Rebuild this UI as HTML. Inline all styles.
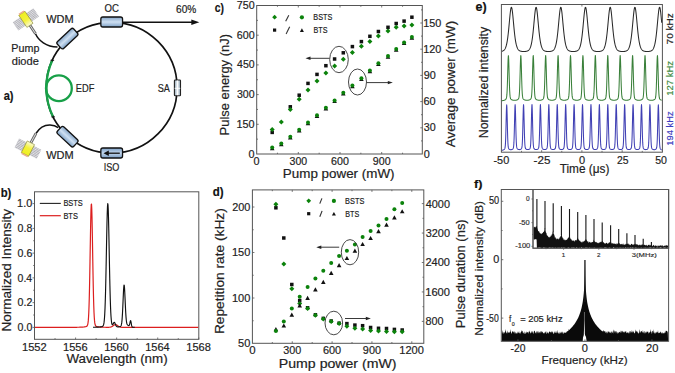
<!DOCTYPE html>
<html><head><meta charset="utf-8"><style>
html,body{margin:0;padding:0;background:#fff;overflow:hidden;}
svg{display:block;}
text{font-family:"Liberation Sans", sans-serif;stroke-width:0.18px;}
</style></head><body>
<svg width="675" height="373" viewBox="0 0 675 373">
<rect width="675" height="373" fill="#fff"/>
<defs>
<linearGradient id="gBox" x1="0" y1="0" x2="0" y2="1">
 <stop offset="0" stop-color="#84a4c6"/><stop offset="0.5" stop-color="#cfe0f2"/><stop offset="1" stop-color="#7ea1c6"/>
</linearGradient>
<linearGradient id="gIso" x1="0" y1="0" x2="0" y2="1">
 <stop offset="0" stop-color="#7c9fc6"/><stop offset="0.5" stop-color="#c2d6ec"/><stop offset="1" stop-color="#7a9dc4"/>
</linearGradient>
<linearGradient id="gSA" x1="0" y1="0" x2="1" y2="0">
 <stop offset="0" stop-color="#8da3b3"/><stop offset="0.5" stop-color="#f4f8fb"/><stop offset="1" stop-color="#8da3b3"/>
</linearGradient>
<linearGradient id="gYel" x1="0" y1="0" x2="1" y2="0">
 <stop offset="0" stop-color="#eeee20"/><stop offset="0.55" stop-color="#f4f23a"/><stop offset="1" stop-color="#fbfbd8"/>
</linearGradient>
<pattern id="hatch" width="1.5" height="1.5" patternUnits="userSpaceOnUse">
 <rect width="1.5" height="1.5" fill="#e8e8ec"/><rect width="0.6" height="1.5" fill="#a0a0a6"/><rect width="1.5" height="0.4" fill="#c4c4ca"/>
</pattern>
</defs>
<circle cx="111.7" cy="87.7" r="65.4" fill="none" stroke="#111" stroke-width="1.7"/>
<path d="M52.32,60.3 A65.4,65.4 0 0 0 53.18,116.9" fill="none" stroke="#18a048" stroke-width="2.3"/>
<circle cx="58.9" cy="88.2" r="12.9" fill="none" stroke="#18a048" stroke-width="2.3"/>
<line x1="50.52" y1="60.3" x2="54.12" y2="60.3" stroke="#111" stroke-width="1" />
<line x1="52.32" y1="59" x2="52.32" y2="61.6" stroke="#111" stroke-width="0.8" />
<line x1="51.38" y1="116.9" x2="54.98" y2="116.9" stroke="#111" stroke-width="1" />
<line x1="53.18" y1="115.6" x2="53.18" y2="118.2" stroke="#111" stroke-width="0.8" />
<line x1="123" y1="22.2" x2="192.5" y2="22.2" stroke="#111" stroke-width="1.4" />
<polygon points="199.3,22.2 191.3,19.4 191.3,25" fill="#111" stroke="none" stroke-width="0" />
<path d="M35.5,33.7 C38.5,40.5 46,46.8 57.5,47.1" fill="none" stroke="#111" stroke-width="1.5"/>
<path d="M35.9,133.5 C39.5,127.5 45,124.8 50,124.9 C54,125 56.5,126.3 58.2,127.6" fill="none" stroke="#111" stroke-width="1.5"/>
<g transform="translate(67.4,38.6) rotate(-43)"><rect x="-11.15" y="-4.65" width="22.3" height="9.3" rx="2" fill="url(#gBox)" stroke="#111" stroke-width="1.3"/></g>
<g transform="translate(67.5,136.7) rotate(43)"><rect x="-11.15" y="-4.65" width="22.3" height="9.3" rx="2" fill="url(#gBox)" stroke="#111" stroke-width="1.3"/></g>
<g transform="translate(111.7,22) rotate(0)"><rect x="-10.85" y="-5" width="21.7" height="10" rx="2" fill="url(#gBox)" stroke="#111" stroke-width="1.3"/></g>
<g transform="translate(111.7,153) rotate(0)"><rect x="-10.85" y="-5" width="21.7" height="10" rx="2" fill="url(#gIso)" stroke="#111" stroke-width="1.3"/></g>
<rect x="174.4" y="80" width="6.1" height="15.7" rx="0.8" fill="url(#gSA)" stroke="#222" stroke-width="1.1"/>
<line x1="177.45" y1="80.5" x2="177.45" y2="95.2" stroke="#ffffff" stroke-width="0.8" />
<line x1="174.6" y1="88.3" x2="180.3" y2="88.3" stroke="#ffffff" stroke-width="0.9" />
<line x1="119.8" y1="153.2" x2="107" y2="153.2" stroke="#111" stroke-width="1.3" />
<polygon points="103.5,153.2 108.8,150.5 108.8,155.9" fill="#111" stroke="none" stroke-width="0" />
<line x1="29.95" y1="25.31" x2="35.5" y2="33.7" stroke="#666" stroke-width="2.8"/>
<line x1="29.95" y1="25.31" x2="35.5" y2="33.7" stroke="#e0e0e0" stroke-width="1.0"/>
<g transform="translate(25.9,19.3) rotate(56)">
<rect x="-5" y="-12.5" width="10" height="25" fill="url(#hatch)"/>
<rect x="-7.25" y="-3.7" width="14.5" height="7.4" fill="url(#gYel)" stroke="#8a8a30" stroke-width="0.6"/>
<rect x="-8.65" y="-3.1" width="1.5" height="6.2" fill="#eeb08a"/>
</g>
<line x1="30.85" y1="142.81" x2="35.9" y2="133.5" stroke="#666" stroke-width="2.8"/>
<line x1="30.85" y1="142.81" x2="35.9" y2="133.5" stroke="#e0e0e0" stroke-width="1.0"/>
<g transform="translate(27.9,148.6) rotate(-63)">
<rect x="-5" y="-12.5" width="10" height="25" fill="url(#hatch)"/>
<rect x="-6.5" y="-4.1" width="13" height="8.2" fill="url(#gYel)" stroke="#8a8a30" stroke-width="0.6"/>
<rect x="-7.9" y="-3.5" width="1.5" height="7" fill="#eeb08a"/>
</g>
<text x="46.2" y="22.5" font-size="10.2" fill="#222" stroke="#222" font-weight="normal" textLength="27.4" lengthAdjust="spacingAndGlyphs">WDM</text>
<text x="104.62" y="12.2" font-size="10.3" fill="#222" stroke="#222" font-weight="normal" textLength="14.39" lengthAdjust="spacingAndGlyphs">OC</text>
<text x="176.09" y="12.9" font-size="10.2" fill="#222" stroke="#222" font-weight="normal" textLength="20.3" lengthAdjust="spacingAndGlyphs">60%</text>
<text x="11.34" y="51.6" font-size="10.2" fill="#222" stroke="#222" font-weight="normal" textLength="28.05" lengthAdjust="spacingAndGlyphs">Pump</text>
<text x="11.76" y="65.3" font-size="10.2" fill="#222" stroke="#222" font-weight="normal" textLength="27.04" lengthAdjust="spacingAndGlyphs">diode</text>
<text x="75.86" y="91.8" font-size="10" fill="#222" stroke="#222" font-weight="normal" textLength="18.53" lengthAdjust="spacingAndGlyphs">EDF</text>
<text x="157.64" y="91.7" font-size="10" fill="#222" stroke="#222" font-weight="normal" textLength="12.14" lengthAdjust="spacingAndGlyphs">SA</text>
<text x="3.68" y="99.6" font-size="12.3" fill="#111" stroke="#111" font-weight="bold" textLength="9.79" lengthAdjust="spacingAndGlyphs">a)</text>
<text x="46.2" y="159.1" font-size="10.2" fill="#222" stroke="#222" font-weight="normal" textLength="27.4" lengthAdjust="spacingAndGlyphs">WDM</text>
<text x="103.68" y="170.9" font-size="10.2" fill="#222" stroke="#222" font-weight="normal" textLength="15.65" lengthAdjust="spacingAndGlyphs">ISO</text>
<rect x="34.5" y="191.8" width="164.3" height="147.5" fill="none" stroke="#555" stroke-width="1"/>
<line x1="34.5" y1="339.3" x2="34.5" y2="337.5" stroke="#555" stroke-width="0.8" />
<line x1="55.04" y1="339.3" x2="55.04" y2="338.1" stroke="#555" stroke-width="0.8" />
<line x1="75.58" y1="339.3" x2="75.58" y2="337.5" stroke="#555" stroke-width="0.8" />
<line x1="96.11" y1="339.3" x2="96.11" y2="338.1" stroke="#555" stroke-width="0.8" />
<line x1="116.65" y1="339.3" x2="116.65" y2="337.5" stroke="#555" stroke-width="0.8" />
<line x1="137.19" y1="339.3" x2="137.19" y2="338.1" stroke="#555" stroke-width="0.8" />
<line x1="157.73" y1="339.3" x2="157.73" y2="337.5" stroke="#555" stroke-width="0.8" />
<line x1="178.26" y1="339.3" x2="178.26" y2="338.1" stroke="#555" stroke-width="0.8" />
<line x1="198.8" y1="339.3" x2="198.8" y2="337.5" stroke="#555" stroke-width="0.8" />
<line x1="34.5" y1="327.4" x2="32.5" y2="327.4" stroke="#555" stroke-width="0.8" />
<line x1="34.5" y1="315.02" x2="33.2" y2="315.02" stroke="#555" stroke-width="0.8" />
<line x1="34.5" y1="302.64" x2="32.5" y2="302.64" stroke="#555" stroke-width="0.8" />
<line x1="34.5" y1="290.26" x2="33.2" y2="290.26" stroke="#555" stroke-width="0.8" />
<line x1="34.5" y1="277.88" x2="32.5" y2="277.88" stroke="#555" stroke-width="0.8" />
<line x1="34.5" y1="265.5" x2="33.2" y2="265.5" stroke="#555" stroke-width="0.8" />
<line x1="34.5" y1="253.12" x2="32.5" y2="253.12" stroke="#555" stroke-width="0.8" />
<line x1="34.5" y1="240.74" x2="33.2" y2="240.74" stroke="#555" stroke-width="0.8" />
<line x1="34.5" y1="228.36" x2="32.5" y2="228.36" stroke="#555" stroke-width="0.8" />
<line x1="34.5" y1="215.98" x2="33.2" y2="215.98" stroke="#555" stroke-width="0.8" />
<line x1="34.5" y1="203.6" x2="32.5" y2="203.6" stroke="#555" stroke-width="0.8" />
<polyline points="35,327.39 35.25,327.39 35.5,327.39 35.75,327.39 36,327.39 36.25,327.39 36.5,327.39 36.75,327.39 37,327.39 37.25,327.39 37.5,327.39 37.75,327.39 38,327.39 38.25,327.39 38.5,327.39 38.75,327.39 39,327.39 39.25,327.39 39.5,327.39 39.75,327.39 40,327.39 40.25,327.39 40.5,327.39 40.75,327.39 41,327.39 41.25,327.39 41.5,327.39 41.75,327.39 42,327.39 42.25,327.39 42.5,327.39 42.75,327.39 43,327.39 43.25,327.39 43.5,327.39 43.75,327.39 44,327.39 44.25,327.39 44.5,327.39 44.75,327.39 45,327.39 45.25,327.39 45.5,327.39 45.75,327.39 46,327.39 46.25,327.39 46.5,327.39 46.75,327.39 47,327.39 47.25,327.39 47.5,327.39 47.75,327.39 48,327.39 48.25,327.39 48.5,327.39 48.75,327.39 49,327.39 49.25,327.39 49.5,327.39 49.75,327.39 50,327.39 50.25,327.39 50.5,327.38 50.75,327.38 51,327.38 51.25,327.38 51.5,327.38 51.75,327.38 52,327.38 52.25,327.38 52.5,327.38 52.75,327.38 53,327.38 53.25,327.38 53.5,327.38 53.75,327.38 54,327.38 54.25,327.38 54.5,327.38 54.75,327.38 55,327.38 55.25,327.38 55.5,327.38 55.75,327.38 56,327.38 56.25,327.38 56.5,327.38 56.75,327.38 57,327.38 57.25,327.38 57.5,327.38 57.75,327.38 58,327.38 58.25,327.38 58.5,327.38 58.75,327.38 59,327.38 59.25,327.38 59.5,327.38 59.75,327.37 60,327.37 60.25,327.37 60.5,327.37 60.75,327.37 61,327.37 61.25,327.37 61.5,327.37 61.75,327.37 62,327.37 62.25,327.37 62.5,327.37 62.75,327.37 63,327.37 63.25,327.37 63.5,327.37 63.75,327.37 64,327.37 64.25,327.37 64.5,327.37 64.75,327.36 65,327.36 65.25,327.36 65.5,327.36 65.75,327.36 66,327.36 66.25,327.36 66.5,327.36 66.75,327.36 67,327.36 67.25,327.36 67.5,327.36 67.75,327.35 68,327.35 68.25,327.35 68.5,327.35 68.75,327.35 69,327.35 69.25,327.35 69.5,327.35 69.75,327.35 70,327.34 70.25,327.34 70.5,327.34 70.75,327.34 71,327.34 71.25,327.34 71.5,327.34 71.75,327.33 72,327.33 72.25,327.33 72.5,327.33 72.75,327.33 73,327.33 73.25,327.32 73.5,327.32 73.75,327.32 74,327.32 74.25,327.31 74.5,327.31 74.75,327.31 75,327.31 75.25,327.3 75.5,327.3 75.75,327.3 76,327.29 76.25,327.29 76.5,327.29 76.75,327.28 77,327.28 77.25,327.27 77.5,327.27 77.75,327.27 78,327.26 78.25,327.26 78.5,327.25 78.75,327.24 79,327.24 79.25,327.23 79.5,327.22 79.75,327.22 80,327.21 80.25,327.2 80.5,327.19 80.75,327.18 81,327.17 81.25,327.16 81.5,327.15 81.75,327.14 82,327.12 82.25,327.11 82.5,327.09 82.75,327.07 83,327.05 83.25,327.03 83.5,327.01 83.75,326.98 84,326.96 84.25,326.93 84.5,326.89 84.75,326.86 85,326.82 85.25,326.77 85.5,326.72 85.75,326.66 86,326.59 86.25,326.51 86.5,326.4 86.75,326.25 87,326.04 87.25,325.71 87.5,325.18 87.75,324.33 88,322.99 88.25,320.91 88.5,317.78 88.75,313.26 89,306.99 89.25,298.69 89.5,288.25 89.75,275.78 90,261.73 90.25,246.92 90.5,232.45 90.75,219.68 91,209.98 91.25,204.52 91.5,204.01 91.75,208.52 92,217.45 92.25,229.72 92.5,243.95 92.75,258.8 93,273.08 93.25,285.91 93.5,296.78 93.75,305.5 94,312.15 94.25,317 94.5,320.38 94.75,322.64 95,324.11 95.25,325.04 95.5,325.62 95.75,325.98 96,326.22 96.25,326.38 96.5,326.49 96.75,326.58 97,326.65 97.25,326.71 97.5,326.76 97.75,326.81 98,326.85 98.25,326.89 98.5,326.92 98.75,326.95 99,326.98 99.25,327 99.5,327.03 99.75,327.05 100,327.07 100.25,327.09 100.5,327.1 100.75,327.12 101,327.13 101.25,327.15 101.5,327.16 101.75,327.17 102,327.18 102.25,327.19 102.5,327.2 102.75,327.21 103,327.22 103.25,327.22 103.5,327.23 103.75,327.24 104,327.24 104.25,327.25 104.5,327.25 104.75,327.26 105,327.26 105.25,327.27 105.5,327.27 105.75,327.28 106,327.28 106.25,327.29 106.5,327.29 106.75,327.29 107,327.29 107.25,327.3 107.5,327.3 107.75,327.3 108,327.3 108.25,327.3 108.5,327.29 108.75,327.28 109,327.27 109.25,327.26 109.5,327.24 109.75,327.22 110,327.19 110.25,327.14 110.5,327.09 110.75,327.03 111,326.96 111.25,326.87 111.5,326.77 111.75,326.65 112,326.52 112.25,326.37 112.5,326.21 112.75,326.04 113,325.87 113.25,325.69 113.5,325.51 113.75,325.33 114,325.16 114.25,325.01 114.5,324.88 114.75,324.78 115,324.7 115.25,324.65 115.5,324.63 115.75,324.65 116,324.7 116.25,324.78 116.5,324.89 116.75,325.02 117,325.18 117.25,325.34 117.5,325.52 117.75,325.7 118,325.88 118.25,326.06 118.5,326.23 118.75,326.4 119,326.54 119.25,326.68 119.5,326.8 119.75,326.9 120,326.99 120.25,327.07 120.5,327.13 120.75,327.19 121,327.23 121.25,327.26 121.5,327.29 121.75,327.31 122,327.33 122.25,327.34 122.5,327.35 122.75,327.36 123,327.36 123.25,327.37 123.5,327.37 123.75,327.37 124,327.37 124.25,327.38 124.5,327.38 124.75,327.38 125,327.38 125.25,327.38 125.5,327.38 125.75,327.38 126,327.38 126.25,327.38 126.5,327.38 126.75,327.38 127,327.38 127.25,327.38 127.5,327.38 127.75,327.38 128,327.38 128.25,327.38 128.5,327.38 128.75,327.38 129,327.38 129.25,327.38 129.5,327.38 129.75,327.38 130,327.38 130.25,327.38 130.5,327.38 130.75,327.38 131,327.38 131.25,327.38 131.5,327.38 131.75,327.38 132,327.38 132.25,327.38 132.5,327.39 132.75,327.39 133,327.39 133.25,327.39 133.5,327.39 133.75,327.39 134,327.39 134.25,327.39 134.5,327.39 134.75,327.39 135,327.39 135.25,327.39 135.5,327.39 135.75,327.39 136,327.39 136.25,327.39 136.5,327.39 136.75,327.39 137,327.39 137.25,327.39 137.5,327.39 137.75,327.39 138,327.39 138.25,327.39 138.5,327.39 138.75,327.39 139,327.39 139.25,327.39 139.5,327.39 139.75,327.39 140,327.39 140.25,327.39 140.5,327.39 140.75,327.39 141,327.39 141.25,327.39 141.5,327.39 141.75,327.39 142,327.39 142.25,327.39 142.5,327.39 142.75,327.39 143,327.39 143.25,327.39 143.5,327.39 143.75,327.39 144,327.39 144.25,327.39 144.5,327.39 144.75,327.39 145,327.39 145.25,327.39 145.5,327.39 145.75,327.39 146,327.39 146.25,327.39 146.5,327.39 146.75,327.39 147,327.39 147.25,327.39 147.5,327.39 147.75,327.39 148,327.39 148.25,327.39 148.5,327.39 148.75,327.39 149,327.39 149.25,327.39 149.5,327.39 149.75,327.39 150,327.39 150.25,327.39 150.5,327.39 150.75,327.39 151,327.39 151.25,327.39 151.5,327.39 151.75,327.39 152,327.39 152.25,327.39 152.5,327.39 152.75,327.39 153,327.39 153.25,327.39 153.5,327.39 153.75,327.39 154,327.39 154.25,327.39 154.5,327.39 154.75,327.39 155,327.39 155.25,327.39 155.5,327.39 155.75,327.39 156,327.39 156.25,327.39 156.5,327.39 156.75,327.39 157,327.39 157.25,327.39 157.5,327.39 157.75,327.39 158,327.39 158.25,327.39 158.5,327.39 158.75,327.39 159,327.39 159.25,327.39 159.5,327.39 159.75,327.39 160,327.39 160.25,327.39 160.5,327.39 160.75,327.39 161,327.39 161.25,327.39 161.5,327.39 161.75,327.39 162,327.39 162.25,327.39 162.5,327.39 162.75,327.4 163,327.4 163.25,327.4 163.5,327.4 163.75,327.4 164,327.4 164.25,327.4 164.5,327.4 164.75,327.4 165,327.4 165.25,327.4 165.5,327.4 165.75,327.4 166,327.4 166.25,327.4 166.5,327.4 166.75,327.4 167,327.4 167.25,327.4 167.5,327.4 167.75,327.4 168,327.4 168.25,327.4 168.5,327.4 168.75,327.4 169,327.4 169.25,327.4 169.5,327.4 169.75,327.4 170,327.4 170.25,327.4 170.5,327.4 170.75,327.4 171,327.4 171.25,327.4 171.5,327.4 171.75,327.4 172,327.4 172.25,327.4 172.5,327.4 172.75,327.4 173,327.4 173.25,327.4 173.5,327.4 173.75,327.4 174,327.4 174.25,327.4 174.5,327.4 174.75,327.4 175,327.4 175.25,327.4 175.5,327.4 175.75,327.4 176,327.4 176.25,327.4 176.5,327.4 176.75,327.4 177,327.4 177.25,327.4 177.5,327.4 177.75,327.4 178,327.4 178.25,327.4 178.5,327.4 178.75,327.4 179,327.4 179.25,327.4 179.5,327.4 179.75,327.4 180,327.4 180.25,327.4 180.5,327.4 180.75,327.4 181,327.4 181.25,327.4 181.5,327.4 181.75,327.4 182,327.4 182.25,327.4 182.5,327.4 182.75,327.4 183,327.4 183.25,327.4 183.5,327.4 183.75,327.4 184,327.4 184.25,327.4 184.5,327.4 184.75,327.4 185,327.4 185.25,327.4 185.5,327.4 185.75,327.4 186,327.4 186.25,327.4 186.5,327.4 186.75,327.4 187,327.4 187.25,327.4 187.5,327.4 187.75,327.4 188,327.4 188.25,327.4 188.5,327.4 188.75,327.4 189,327.4 189.25,327.4 189.5,327.4 189.75,327.4 190,327.4 190.25,327.4 190.5,327.4 190.75,327.4 191,327.4 191.25,327.4 191.5,327.4 191.75,327.4 192,327.4 192.25,327.4 192.5,327.4 192.75,327.4 193,327.4 193.25,327.4 193.5,327.4 193.75,327.4 194,327.4 194.25,327.4 194.5,327.4 194.75,327.4 195,327.4 195.25,327.4 195.5,327.4 195.75,327.4 196,327.4 196.25,327.4 196.5,327.4 196.75,327.4 197,327.4 197.25,327.4 197.5,327.4 197.75,327.4 198,327.4 198.25,327.4" fill="none" stroke="#dc1e1e" stroke-width="1.2" stroke-linejoin="round" />
<polyline points="93,327.26 93.25,327.26 93.5,327.25 93.75,327.25 94,327.24 94.25,327.24 94.5,327.23 94.75,327.23 95,327.22 95.25,327.21 95.5,327.2 95.75,327.2 96,327.19 96.25,327.18 96.5,327.17 96.75,327.16 97,327.15 97.25,327.14 97.5,327.13 97.75,327.11 98,327.1 98.25,327.09 98.5,327.07 98.75,327.05 99,327.03 99.25,327.01 99.5,326.99 99.75,326.97 100,326.94 100.25,326.91 100.5,326.88 100.75,326.85 101,326.81 101.25,326.77 101.5,326.72 101.75,326.66 102,326.59 102.25,326.5 102.5,326.38 102.75,326.2 103,325.94 103.25,325.55 103.5,324.95 103.75,324.04 104,322.67 104.25,320.67 104.5,317.82 104.75,313.88 105,308.62 105.25,301.83 105.5,293.4 105.75,283.33 106,271.81 106.25,259.24 106.5,246.21 106.75,233.5 107,222.01 107.25,212.69 107.5,206.36 107.75,203.64 108,204.81 108.25,209.75 108.5,217.97 108.75,228.7 109,241.03 109.25,254.03 109.5,266.87 109.75,278.86 110,289.54 110.25,298.63 110.5,306.06 110.75,311.9 111,316.32 111.25,319.54 111.5,321.78 111.75,323.27 112,324.17 112.25,324.62 112.5,324.72 112.75,324.56 113,324.21 113.25,323.73 113.5,323.22 113.75,322.77 114,322.45 114.25,322.33 114.5,322.44 114.75,322.77 115,323.27 115.25,323.88 115.5,324.52 115.75,325.12 116,325.64 116.25,326.05 116.5,326.35 116.75,326.56 117,326.7 117.25,326.78 117.5,326.82 117.75,326.84 118,326.85 118.25,326.84 118.5,326.83 118.75,326.81 119,326.79 119.25,326.76 119.5,326.72 119.75,326.67 120,326.61 120.25,326.52 120.5,326.38 120.75,326.15 121,325.78 121.25,325.17 121.5,324.17 121.75,322.63 122,320.35 122.25,317.17 122.5,313.02 122.75,307.98 123,302.31 123.25,296.51 123.5,291.26 123.75,287.27 124,285.18 124.25,285.35 124.5,287.73 124.75,291.91 125,297.21 125.25,302.9 125.5,308.34 125.75,313.09 126,316.91 126.25,319.78 126.5,321.79 126.75,323.12 127,323.97 127.25,324.49 127.5,324.82 127.75,325.04 128,325.22 128.25,325.38 128.5,325.52 128.75,325.62 129,325.61 129.25,325.39 129.5,324.81 129.75,323.82 130,322.53 130.25,321.3 130.5,320.62 130.75,320.81 131,321.83 131.25,323.31 131.5,324.76 131.75,325.88 132,326.57 132.25,326.94 132.5,327.1 132.75,327.17 133,327.2 133.25,327.22 133.5,327.23 133.75,327.24 134,327.25 134.25,327.25 134.5,327.26 134.75,327.26" fill="none" stroke="#111" stroke-width="1.15" stroke-linejoin="round" />
<line x1="39.8" y1="203.4" x2="60.8" y2="203.4" stroke="#222" stroke-width="1.1" />
<line x1="39.8" y1="215.7" x2="60.8" y2="215.7" stroke="#dc1e1e" stroke-width="1.2" />
<text x="63.41" y="206.3" font-size="8.4" fill="#222" stroke="#222" font-weight="normal" textLength="19.37" lengthAdjust="spacingAndGlyphs">BSTS</text>
<text x="63.4" y="218.6" font-size="8.4" fill="#222" stroke="#222" font-weight="normal" textLength="14.47" lengthAdjust="spacingAndGlyphs">BTS</text>
<text x="17.58" y="331.1" font-size="10.3" fill="#222" stroke="#222" font-weight="normal" textLength="14.7" lengthAdjust="spacingAndGlyphs">0.0</text>
<text x="17.58" y="306.34" font-size="10.3" fill="#222" stroke="#222" font-weight="normal" textLength="14.81" lengthAdjust="spacingAndGlyphs">0.2</text>
<text x="17.59" y="281.58" font-size="10.3" fill="#222" stroke="#222" font-weight="normal" textLength="14.59" lengthAdjust="spacingAndGlyphs">0.4</text>
<text x="17.58" y="256.82" font-size="10.3" fill="#222" stroke="#222" font-weight="normal" textLength="14.7" lengthAdjust="spacingAndGlyphs">0.6</text>
<text x="17.58" y="232.06" font-size="10.3" fill="#222" stroke="#222" font-weight="normal" textLength="14.7" lengthAdjust="spacingAndGlyphs">0.8</text>
<text x="17.14" y="207.3" font-size="10.3" fill="#222" stroke="#222" font-weight="normal" textLength="15.16" lengthAdjust="spacingAndGlyphs">1.0</text>
<text x="22.02" y="350.6" font-size="10.8" fill="#222" stroke="#222" font-weight="normal" textLength="24.69" lengthAdjust="spacingAndGlyphs">1552</text>
<text x="63.1" y="350.6" font-size="10.8" fill="#222" stroke="#222" font-weight="normal" textLength="24.57" lengthAdjust="spacingAndGlyphs">1556</text>
<text x="104.18" y="350.6" font-size="10.8" fill="#222" stroke="#222" font-weight="normal" textLength="24.57" lengthAdjust="spacingAndGlyphs">1560</text>
<text x="145.26" y="350.6" font-size="10.8" fill="#222" stroke="#222" font-weight="normal" textLength="24.46" lengthAdjust="spacingAndGlyphs">1564</text>
<text x="186.33" y="350.6" font-size="10.8" fill="#222" stroke="#222" font-weight="normal" textLength="24.57" lengthAdjust="spacingAndGlyphs">1568</text>
<text x="66.4" y="363.4" font-size="12.6" fill="#222" stroke="#222" font-weight="normal" textLength="101.21" lengthAdjust="spacingAndGlyphs">Wavelength (nm)</text>
<text x="0.72" y="196.5" font-size="12.3" fill="#111" stroke="#111" font-weight="bold" textLength="10.66" lengthAdjust="spacingAndGlyphs">b)</text>
<text transform="translate(11.3,331.58) rotate(-90)" font-size="12.3" fill="#222" stroke="#222" font-weight="normal" textLength="122.58" lengthAdjust="spacingAndGlyphs">Normalized Intensity</text>
<rect x="256.7" y="5.5" width="165.6" height="148.5" fill="none" stroke="#555" stroke-width="1"/>
<line x1="277.45" y1="154" x2="277.45" y2="152.7" stroke="#555" stroke-width="0.8" />
<line x1="277.45" y1="5.5" x2="277.45" y2="6.8" stroke="#555" stroke-width="0.8" />
<line x1="298.3" y1="154" x2="298.3" y2="152" stroke="#555" stroke-width="0.8" />
<line x1="298.3" y1="5.5" x2="298.3" y2="7.5" stroke="#555" stroke-width="0.8" />
<line x1="319.15" y1="154" x2="319.15" y2="152.7" stroke="#555" stroke-width="0.8" />
<line x1="319.15" y1="5.5" x2="319.15" y2="6.8" stroke="#555" stroke-width="0.8" />
<line x1="340" y1="154" x2="340" y2="152" stroke="#555" stroke-width="0.8" />
<line x1="340" y1="5.5" x2="340" y2="7.5" stroke="#555" stroke-width="0.8" />
<line x1="360.85" y1="154" x2="360.85" y2="152.7" stroke="#555" stroke-width="0.8" />
<line x1="360.85" y1="5.5" x2="360.85" y2="6.8" stroke="#555" stroke-width="0.8" />
<line x1="381.7" y1="154" x2="381.7" y2="152" stroke="#555" stroke-width="0.8" />
<line x1="381.7" y1="5.5" x2="381.7" y2="7.5" stroke="#555" stroke-width="0.8" />
<line x1="402.55" y1="154" x2="402.55" y2="152.7" stroke="#555" stroke-width="0.8" />
<line x1="402.55" y1="5.5" x2="402.55" y2="6.8" stroke="#555" stroke-width="0.8" />
<line x1="256.7" y1="139.15" x2="258" y2="139.15" stroke="#555" stroke-width="0.8" />
<line x1="256.7" y1="124.3" x2="258.7" y2="124.3" stroke="#555" stroke-width="0.8" />
<line x1="256.7" y1="109.45" x2="258" y2="109.45" stroke="#555" stroke-width="0.8" />
<line x1="256.7" y1="94.6" x2="258.7" y2="94.6" stroke="#555" stroke-width="0.8" />
<line x1="256.7" y1="79.75" x2="258" y2="79.75" stroke="#555" stroke-width="0.8" />
<line x1="256.7" y1="64.9" x2="258.7" y2="64.9" stroke="#555" stroke-width="0.8" />
<line x1="256.7" y1="50.05" x2="258" y2="50.05" stroke="#555" stroke-width="0.8" />
<line x1="256.7" y1="35.2" x2="258.7" y2="35.2" stroke="#555" stroke-width="0.8" />
<line x1="256.7" y1="20.35" x2="258" y2="20.35" stroke="#555" stroke-width="0.8" />
<line x1="422.3" y1="140.9" x2="421" y2="140.9" stroke="#555" stroke-width="0.8" />
<line x1="422.3" y1="127.8" x2="420.3" y2="127.8" stroke="#555" stroke-width="0.8" />
<line x1="422.3" y1="114.7" x2="421" y2="114.7" stroke="#555" stroke-width="0.8" />
<line x1="422.3" y1="101.6" x2="420.3" y2="101.6" stroke="#555" stroke-width="0.8" />
<line x1="422.3" y1="88.5" x2="421" y2="88.5" stroke="#555" stroke-width="0.8" />
<line x1="422.3" y1="75.4" x2="420.3" y2="75.4" stroke="#555" stroke-width="0.8" />
<line x1="422.3" y1="62.3" x2="421" y2="62.3" stroke="#555" stroke-width="0.8" />
<line x1="422.3" y1="49.2" x2="420.3" y2="49.2" stroke="#555" stroke-width="0.8" />
<line x1="422.3" y1="36.1" x2="421" y2="36.1" stroke="#555" stroke-width="0.8" />
<line x1="422.3" y1="23" x2="420.3" y2="23" stroke="#555" stroke-width="0.8" />
<line x1="422.3" y1="9.9" x2="421" y2="9.9" stroke="#555" stroke-width="0.8" />
<rect x="270.45" y="130.65" width="3.5" height="3.5" fill="#111"/>
<polygon points="272.2,127.1 274.7,129.6 272.2,132.1 269.7,129.6" fill="#0b820b" stroke="none" stroke-width="0" />
<polygon points="272.2,146.19 274.5,150.33 269.9,150.33" fill="#111" stroke="none" stroke-width="0" />
<circle cx="272.2" cy="147.6" r="2" fill="#0b820b"/>
<polygon points="281.3,119.4 283.8,121.9 281.3,124.4 278.8,121.9" fill="#0b820b" stroke="none" stroke-width="0" />
<polygon points="281.3,142.19 283.6,146.33 279,146.33" fill="#111" stroke="none" stroke-width="0" />
<circle cx="281.3" cy="143.6" r="2" fill="#0b820b"/>
<rect x="288.55" y="105.05" width="3.5" height="3.5" fill="#111"/>
<polygon points="290.3,107 292.8,109.5 290.3,112 287.8,109.5" fill="#0b820b" stroke="none" stroke-width="0" />
<polygon points="290.3,135.29 292.6,139.43 288,139.43" fill="#111" stroke="none" stroke-width="0" />
<circle cx="290.3" cy="136.7" r="2" fill="#0b820b"/>
<rect x="297.45" y="93.45" width="3.5" height="3.5" fill="#111"/>
<polygon points="299.2,96.7 301.7,99.2 299.2,101.7 296.7,99.2" fill="#0b820b" stroke="none" stroke-width="0" />
<polygon points="299.2,128.29 301.5,132.43 296.9,132.43" fill="#111" stroke="none" stroke-width="0" />
<circle cx="299.2" cy="129.7" r="2" fill="#0b820b"/>
<rect x="306.25" y="81.65" width="3.5" height="3.5" fill="#111"/>
<polygon points="308,87.4 310.5,89.9 308,92.4 305.5,89.9" fill="#0b820b" stroke="none" stroke-width="0" />
<polygon points="308,121.18 310.3,125.32 305.7,125.32" fill="#111" stroke="none" stroke-width="0" />
<circle cx="308" cy="122.6" r="2" fill="#0b820b"/>
<rect x="315.25" y="72.65" width="3.5" height="3.5" fill="#111"/>
<polygon points="317,78.6 319.5,81.1 317,83.6 314.5,81.1" fill="#0b820b" stroke="none" stroke-width="0" />
<polygon points="317,113.78 319.3,117.92 314.7,117.92" fill="#111" stroke="none" stroke-width="0" />
<circle cx="317" cy="115.2" r="2" fill="#0b820b"/>
<rect x="324.15" y="63.95" width="3.5" height="3.5" fill="#111"/>
<polygon points="325.9,70.4 328.4,72.9 325.9,75.4 323.4,72.9" fill="#0b820b" stroke="none" stroke-width="0" />
<polygon points="325.9,106.28 328.2,110.42 323.6,110.42" fill="#111" stroke="none" stroke-width="0" />
<circle cx="325.9" cy="107.7" r="2" fill="#0b820b"/>
<rect x="332.85" y="57.25" width="3.5" height="3.5" fill="#111"/>
<polygon points="334.6,63.5 337.1,66 334.6,68.5 332.1,66" fill="#0b820b" stroke="none" stroke-width="0" />
<polygon points="334.6,98.98 336.9,103.12 332.3,103.12" fill="#111" stroke="none" stroke-width="0" />
<circle cx="334.6" cy="100.4" r="2" fill="#0b820b"/>
<rect x="341.55" y="51.05" width="3.5" height="3.5" fill="#111"/>
<polygon points="343.3,56.8 345.8,59.3 343.3,61.8 340.8,59.3" fill="#0b820b" stroke="none" stroke-width="0" />
<polygon points="343.3,91.28 345.6,95.42 341,95.42" fill="#111" stroke="none" stroke-width="0" />
<circle cx="343.3" cy="92.7" r="2" fill="#0b820b"/>
<rect x="350.65" y="44.85" width="3.5" height="3.5" fill="#111"/>
<polygon points="352.4,50 354.9,52.5 352.4,55 349.9,52.5" fill="#0b820b" stroke="none" stroke-width="0" />
<polygon points="352.4,84.18 354.7,88.32 350.1,88.32" fill="#111" stroke="none" stroke-width="0" />
<circle cx="352.4" cy="85.6" r="2" fill="#0b820b"/>
<rect x="359.65" y="39.85" width="3.5" height="3.5" fill="#111"/>
<polygon points="361.4,43.7 363.9,46.2 361.4,48.7 358.9,46.2" fill="#0b820b" stroke="none" stroke-width="0" />
<polygon points="361.4,76.88 363.7,81.02 359.1,81.02" fill="#111" stroke="none" stroke-width="0" />
<circle cx="361.4" cy="78.3" r="2" fill="#0b820b"/>
<rect x="368.15" y="34.55" width="3.5" height="3.5" fill="#111"/>
<polygon points="369.9,39.1 372.4,41.6 369.9,44.1 367.4,41.6" fill="#0b820b" stroke="none" stroke-width="0" />
<polygon points="369.9,69.18 372.2,73.32 367.6,73.32" fill="#111" stroke="none" stroke-width="0" />
<circle cx="369.9" cy="70.6" r="2" fill="#0b820b"/>
<rect x="376.65" y="29.75" width="3.5" height="3.5" fill="#111"/>
<polygon points="378.4,33.5 380.9,36 378.4,38.5 375.9,36" fill="#0b820b" stroke="none" stroke-width="0" />
<polygon points="378.4,61.79 380.7,65.92 376.1,65.92" fill="#111" stroke="none" stroke-width="0" />
<circle cx="378.4" cy="63.2" r="2" fill="#0b820b"/>
<rect x="386.25" y="25.55" width="3.5" height="3.5" fill="#111"/>
<polygon points="388,28.6 390.5,31.1 388,33.6 385.5,31.1" fill="#0b820b" stroke="none" stroke-width="0" />
<polygon points="388,54.68 390.3,58.82 385.7,58.82" fill="#111" stroke="none" stroke-width="0" />
<circle cx="388" cy="56.1" r="2" fill="#0b820b"/>
<rect x="394.45" y="21.75" width="3.5" height="3.5" fill="#111"/>
<polygon points="396.2,24.8 398.7,27.3 396.2,29.8 393.7,27.3" fill="#0b820b" stroke="none" stroke-width="0" />
<polygon points="396.2,47.59 398.5,51.73 393.9,51.73" fill="#111" stroke="none" stroke-width="0" />
<circle cx="396.2" cy="49" r="2" fill="#0b820b"/>
<rect x="402.35" y="19.35" width="3.5" height="3.5" fill="#111"/>
<polygon points="404.1,23.6 406.6,26.1 404.1,28.6 401.6,26.1" fill="#0b820b" stroke="none" stroke-width="0" />
<polygon points="404.1,40.98 406.4,45.12 401.8,45.12" fill="#111" stroke="none" stroke-width="0" />
<circle cx="404.1" cy="42.4" r="2" fill="#0b820b"/>
<rect x="410.15" y="15.45" width="3.5" height="3.5" fill="#111"/>
<polygon points="411.9,22.6 414.4,25.1 411.9,27.6 409.4,25.1" fill="#0b820b" stroke="none" stroke-width="0" />
<polygon points="411.9,35.59 414.2,39.73 409.6,39.73" fill="#111" stroke="none" stroke-width="0" />
<circle cx="411.9" cy="37" r="2" fill="#0b820b"/>
<ellipse cx="339.0" cy="59.5" rx="9.3" ry="13.2" fill="none" stroke="#333" stroke-width="0.9"/>
<ellipse cx="357.5" cy="82.0" rx="9.0" ry="13.0" fill="none" stroke="#333" stroke-width="0.9"/>
<line x1="309" y1="58.3" x2="329.5" y2="58.3" stroke="#222" stroke-width="0.9" />
<polygon points="305.5,58.3 310.5,56.6 310.5,60" fill="#222" stroke="none" stroke-width="0" />
<line x1="366.8" y1="82.6" x2="389" y2="82.6" stroke="#222" stroke-width="0.9" />
<polygon points="392.8,82.6 387.8,80.9 387.8,84.3" fill="#222" stroke="none" stroke-width="0" />
<polygon points="274.6,14.8 277,17.2 274.6,19.6 272.2,17.2" fill="#0b820b" stroke="none" stroke-width="0" />
<circle cx="301.9" cy="17.3" r="2.1" fill="#0b820b"/>
<rect x="273" y="28.5" width="3.2" height="3.2" fill="#111"/>
<polygon points="301.9,28.3 303.9,31.9 299.9,31.9" fill="#111" stroke="none" stroke-width="0" />
<line x1="285.7" y1="21.3" x2="288.8" y2="15.2" stroke="#333" stroke-width="1.1" />
<line x1="286.1" y1="34" x2="289.7" y2="26.8" stroke="#333" stroke-width="1.1" />
<text x="313.32" y="20.3" font-size="8.4" fill="#222" stroke="#222" font-weight="normal" textLength="18.95" lengthAdjust="spacingAndGlyphs">BSTS</text>
<text x="313.53" y="32.8" font-size="8.4" fill="#222" stroke="#222" font-weight="normal" textLength="13.94" lengthAdjust="spacingAndGlyphs">BTS</text>
<text x="248.58" y="157.5" font-size="10" fill="#222" stroke="#222" font-weight="normal" textLength="6.02" lengthAdjust="spacingAndGlyphs">0</text>
<text x="236.54" y="127.8" font-size="10" fill="#222" stroke="#222" font-weight="normal" textLength="18.05" lengthAdjust="spacingAndGlyphs">150</text>
<text x="236.98" y="98.1" font-size="10" fill="#222" stroke="#222" font-weight="normal" textLength="17.6" lengthAdjust="spacingAndGlyphs">300</text>
<text x="237.09" y="68.4" font-size="10" fill="#222" stroke="#222" font-weight="normal" textLength="17.49" lengthAdjust="spacingAndGlyphs">450</text>
<text x="236.77" y="38.7" font-size="10" fill="#222" stroke="#222" font-weight="normal" textLength="17.82" lengthAdjust="spacingAndGlyphs">600</text>
<text x="236.77" y="9" font-size="10" fill="#222" stroke="#222" font-weight="normal" textLength="17.82" lengthAdjust="spacingAndGlyphs">750</text>
<text x="423.78" y="157.5" font-size="10" fill="#222" stroke="#222" font-weight="normal" textLength="6.02" lengthAdjust="spacingAndGlyphs">0</text>
<text x="423.78" y="131.3" font-size="10" fill="#222" stroke="#222" font-weight="normal" textLength="11.91" lengthAdjust="spacingAndGlyphs">30</text>
<text x="423.55" y="105.1" font-size="10" fill="#222" stroke="#222" font-weight="normal" textLength="12.14" lengthAdjust="spacingAndGlyphs">60</text>
<text x="423.67" y="78.9" font-size="10" fill="#222" stroke="#222" font-weight="normal" textLength="12.02" lengthAdjust="spacingAndGlyphs">90</text>
<text x="423.34" y="52.7" font-size="10" fill="#222" stroke="#222" font-weight="normal" textLength="18.05" lengthAdjust="spacingAndGlyphs">120</text>
<text x="423.34" y="26.5" font-size="10" fill="#222" stroke="#222" font-weight="normal" textLength="18.05" lengthAdjust="spacingAndGlyphs">150</text>
<text x="253.63" y="165.1" font-size="10" fill="#222" stroke="#222" font-weight="normal" textLength="6.02" lengthAdjust="spacingAndGlyphs">0</text>
<text x="289.53" y="165.1" font-size="10" fill="#222" stroke="#222" font-weight="normal" textLength="17.6" lengthAdjust="spacingAndGlyphs">300</text>
<text x="331.02" y="165.1" font-size="10" fill="#222" stroke="#222" font-weight="normal" textLength="17.82" lengthAdjust="spacingAndGlyphs">600</text>
<text x="372.83" y="165.1" font-size="10" fill="#222" stroke="#222" font-weight="normal" textLength="17.71" lengthAdjust="spacingAndGlyphs">900</text>
<text x="282.83" y="178.4" font-size="12" fill="#222" stroke="#222" font-weight="normal" textLength="111.68" lengthAdjust="spacingAndGlyphs">Pump power (mW)</text>
<text transform="translate(228.5,135.44) rotate(-90)" font-size="12" fill="#222" stroke="#222" font-weight="normal" textLength="101.42" lengthAdjust="spacingAndGlyphs">Pulse energy (nJ)</text>
<text transform="translate(455.3,147.2) rotate(-90)" font-size="12" fill="#222" stroke="#222" font-weight="normal" textLength="126.31" lengthAdjust="spacingAndGlyphs">Average power (mW)</text>
<text x="214.79" y="11.7" font-size="12.3" fill="#111" stroke="#111" font-weight="bold" textLength="9.15" lengthAdjust="spacingAndGlyphs">c)</text>
<rect x="252.4" y="189.9" width="171.4" height="153.4" fill="none" stroke="#555" stroke-width="1"/>
<line x1="272.32" y1="343.3" x2="272.32" y2="342" stroke="#555" stroke-width="0.8" />
<line x1="272.32" y1="189.9" x2="272.32" y2="191.2" stroke="#555" stroke-width="0.8" />
<line x1="292.25" y1="343.3" x2="292.25" y2="341.3" stroke="#555" stroke-width="0.8" />
<line x1="292.25" y1="189.9" x2="292.25" y2="191.9" stroke="#555" stroke-width="0.8" />
<line x1="312.18" y1="343.3" x2="312.18" y2="342" stroke="#555" stroke-width="0.8" />
<line x1="312.18" y1="189.9" x2="312.18" y2="191.2" stroke="#555" stroke-width="0.8" />
<line x1="332.1" y1="343.3" x2="332.1" y2="341.3" stroke="#555" stroke-width="0.8" />
<line x1="332.1" y1="189.9" x2="332.1" y2="191.9" stroke="#555" stroke-width="0.8" />
<line x1="352.02" y1="343.3" x2="352.02" y2="342" stroke="#555" stroke-width="0.8" />
<line x1="352.02" y1="189.9" x2="352.02" y2="191.2" stroke="#555" stroke-width="0.8" />
<line x1="371.95" y1="343.3" x2="371.95" y2="341.3" stroke="#555" stroke-width="0.8" />
<line x1="371.95" y1="189.9" x2="371.95" y2="191.9" stroke="#555" stroke-width="0.8" />
<line x1="391.88" y1="343.3" x2="391.88" y2="342" stroke="#555" stroke-width="0.8" />
<line x1="391.88" y1="189.9" x2="391.88" y2="191.2" stroke="#555" stroke-width="0.8" />
<line x1="411.8" y1="343.3" x2="411.8" y2="341.3" stroke="#555" stroke-width="0.8" />
<line x1="411.8" y1="189.9" x2="411.8" y2="191.9" stroke="#555" stroke-width="0.8" />
<line x1="252.4" y1="320.75" x2="253.7" y2="320.75" stroke="#555" stroke-width="0.8" />
<line x1="252.4" y1="298" x2="254.4" y2="298" stroke="#555" stroke-width="0.8" />
<line x1="252.4" y1="275.25" x2="253.7" y2="275.25" stroke="#555" stroke-width="0.8" />
<line x1="252.4" y1="252.5" x2="254.4" y2="252.5" stroke="#555" stroke-width="0.8" />
<line x1="252.4" y1="229.75" x2="253.7" y2="229.75" stroke="#555" stroke-width="0.8" />
<line x1="252.4" y1="207" x2="254.4" y2="207" stroke="#555" stroke-width="0.8" />
<line x1="423.8" y1="321.4" x2="421.8" y2="321.4" stroke="#555" stroke-width="0.8" />
<line x1="423.8" y1="306.67" x2="422.5" y2="306.67" stroke="#555" stroke-width="0.8" />
<line x1="423.8" y1="291.95" x2="421.8" y2="291.95" stroke="#555" stroke-width="0.8" />
<line x1="423.8" y1="277.23" x2="422.5" y2="277.23" stroke="#555" stroke-width="0.8" />
<line x1="423.8" y1="262.5" x2="421.8" y2="262.5" stroke="#555" stroke-width="0.8" />
<line x1="423.8" y1="247.77" x2="422.5" y2="247.77" stroke="#555" stroke-width="0.8" />
<line x1="423.8" y1="233.05" x2="421.8" y2="233.05" stroke="#555" stroke-width="0.8" />
<line x1="423.8" y1="218.32" x2="422.5" y2="218.32" stroke="#555" stroke-width="0.8" />
<line x1="423.8" y1="203.6" x2="421.8" y2="203.6" stroke="#555" stroke-width="0.8" />
<rect x="274.15" y="206.05" width="3.5" height="3.5" fill="#111"/>
<polygon points="275.9,201.7 278.4,204.2 275.9,206.7 273.4,204.2" fill="#0b820b" stroke="none" stroke-width="0" />
<polygon points="275.9,327.08 278.2,331.23 273.6,331.23" fill="#111" stroke="none" stroke-width="0" />
<circle cx="275.9" cy="331" r="2" fill="#0b820b"/>
<rect x="282.05" y="236.25" width="3.5" height="3.5" fill="#111"/>
<polygon points="283.8,261.5 286.3,264 283.8,266.5 281.3,264" fill="#0b820b" stroke="none" stroke-width="0" />
<polygon points="283.8,323.38 286.1,327.53 281.5,327.53" fill="#111" stroke="none" stroke-width="0" />
<circle cx="283.8" cy="321.6" r="2" fill="#0b820b"/>
<rect x="290.05" y="282.75" width="3.5" height="3.5" fill="#111"/>
<polygon points="291.8,286.3 294.3,288.8 291.8,291.3 289.3,288.8" fill="#0b820b" stroke="none" stroke-width="0" />
<polygon points="291.8,312.58 294.1,316.73 289.5,316.73" fill="#111" stroke="none" stroke-width="0" />
<circle cx="291.8" cy="308.5" r="2" fill="#0b820b"/>
<rect x="297.95" y="298.85" width="3.5" height="3.5" fill="#111"/>
<polygon points="299.7,300.9 302.2,303.4 299.7,305.9 297.2,303.4" fill="#0b820b" stroke="none" stroke-width="0" />
<polygon points="299.7,303.28 302,307.43 297.4,307.43" fill="#111" stroke="none" stroke-width="0" />
<circle cx="299.7" cy="296.8" r="2" fill="#0b820b"/>
<rect x="305.85" y="306.05" width="3.5" height="3.5" fill="#111"/>
<polygon points="307.6,306 310.1,308.5 307.6,311 305.1,308.5" fill="#0b820b" stroke="none" stroke-width="0" />
<polygon points="307.6,295.78 309.9,299.93 305.3,299.93" fill="#111" stroke="none" stroke-width="0" />
<circle cx="307.6" cy="286.9" r="2" fill="#0b820b"/>
<rect x="313.65" y="313.05" width="3.5" height="3.5" fill="#111"/>
<polygon points="315.4,312.8 317.9,315.3 315.4,317.8 312.9,315.3" fill="#0b820b" stroke="none" stroke-width="0" />
<polygon points="315.4,287.28 317.7,291.43 313.1,291.43" fill="#111" stroke="none" stroke-width="0" />
<circle cx="315.4" cy="278.5" r="2" fill="#0b820b"/>
<rect x="321.55" y="316.65" width="3.5" height="3.5" fill="#111"/>
<polygon points="323.3,316.4 325.8,318.9 323.3,321.4 320.8,318.9" fill="#0b820b" stroke="none" stroke-width="0" />
<polygon points="323.3,279.78 325.6,283.93 321,283.93" fill="#111" stroke="none" stroke-width="0" />
<circle cx="323.3" cy="270.8" r="2" fill="#0b820b"/>
<rect x="329.45" y="319.25" width="3.5" height="3.5" fill="#111"/>
<polygon points="331.2,319 333.7,321.5 331.2,324 328.7,321.5" fill="#0b820b" stroke="none" stroke-width="0" />
<polygon points="331.2,270.78 333.5,274.93 328.9,274.93" fill="#111" stroke="none" stroke-width="0" />
<circle cx="331.2" cy="262.9" r="2" fill="#0b820b"/>
<rect x="337.35" y="321.45" width="3.5" height="3.5" fill="#111"/>
<polygon points="339.1,321.1 341.6,323.6 339.1,326.1 336.6,323.6" fill="#0b820b" stroke="none" stroke-width="0" />
<polygon points="339.1,263.08 341.4,267.23 336.8,267.23" fill="#111" stroke="none" stroke-width="0" />
<circle cx="339.1" cy="255.9" r="2" fill="#0b820b"/>
<rect x="345.15" y="321.85" width="3.5" height="3.5" fill="#111"/>
<polygon points="346.9,323.7 349.4,326.2 346.9,328.7 344.4,326.2" fill="#0b820b" stroke="none" stroke-width="0" />
<polygon points="346.9,255.89 349.2,260.03 344.6,260.03" fill="#111" stroke="none" stroke-width="0" />
<circle cx="346.9" cy="250.8" r="2" fill="#0b820b"/>
<rect x="353.15" y="323.35" width="3.5" height="3.5" fill="#111"/>
<polygon points="354.9,325.8 357.4,328.3 354.9,330.8 352.4,328.3" fill="#0b820b" stroke="none" stroke-width="0" />
<polygon points="354.9,248.59 357.2,252.72 352.6,252.72" fill="#111" stroke="none" stroke-width="0" />
<circle cx="354.9" cy="244.5" r="2" fill="#0b820b"/>
<rect x="360.85" y="323.95" width="3.5" height="3.5" fill="#111"/>
<polygon points="362.6,326.5 365.1,329 362.6,331.5 360.1,329" fill="#0b820b" stroke="none" stroke-width="0" />
<polygon points="362.6,241.89 364.9,246.03 360.3,246.03" fill="#111" stroke="none" stroke-width="0" />
<circle cx="362.6" cy="237" r="2" fill="#0b820b"/>
<rect x="368.85" y="325.75" width="3.5" height="3.5" fill="#111"/>
<polygon points="370.6,328 373.1,330.5 370.6,333 368.1,330.5" fill="#0b820b" stroke="none" stroke-width="0" />
<polygon points="370.6,235.89 372.9,240.03 368.3,240.03" fill="#111" stroke="none" stroke-width="0" />
<circle cx="370.6" cy="231" r="2" fill="#0b820b"/>
<rect x="376.75" y="326.55" width="3.5" height="3.5" fill="#111"/>
<polygon points="378.5,328.6 381,331.1 378.5,333.6 376,331.1" fill="#0b820b" stroke="none" stroke-width="0" />
<polygon points="378.5,229.09 380.8,233.22 376.2,233.22" fill="#111" stroke="none" stroke-width="0" />
<circle cx="378.5" cy="225.5" r="2" fill="#0b820b"/>
<rect x="384.75" y="326.75" width="3.5" height="3.5" fill="#111"/>
<polygon points="386.5,329 389,331.5 386.5,334 384,331.5" fill="#0b820b" stroke="none" stroke-width="0" />
<polygon points="386.5,222.59 388.8,226.72 384.2,226.72" fill="#111" stroke="none" stroke-width="0" />
<circle cx="386.5" cy="219" r="2" fill="#0b820b"/>
<rect x="392.65" y="327.65" width="3.5" height="3.5" fill="#111"/>
<polygon points="394.4,329.3 396.9,331.8 394.4,334.3 391.9,331.8" fill="#0b820b" stroke="none" stroke-width="0" />
<polygon points="394.4,215.28 396.7,219.42 392.1,219.42" fill="#111" stroke="none" stroke-width="0" />
<circle cx="394.4" cy="209.3" r="2" fill="#0b820b"/>
<rect x="400.45" y="328.25" width="3.5" height="3.5" fill="#111"/>
<polygon points="402.2,329.3 404.7,331.8 402.2,334.3 399.7,331.8" fill="#0b820b" stroke="none" stroke-width="0" />
<polygon points="402.2,209.19 404.5,213.32 399.9,213.32" fill="#111" stroke="none" stroke-width="0" />
<circle cx="402.2" cy="203.1" r="2" fill="#0b820b"/>
<ellipse cx="350.0" cy="252.2" rx="8.7" ry="12.6" fill="none" stroke="#333" stroke-width="0.9"/>
<ellipse cx="333.8" cy="323.0" rx="8.8" ry="11.8" fill="none" stroke="#333" stroke-width="0.9"/>
<line x1="320" y1="247.2" x2="339.2" y2="247.2" stroke="#222" stroke-width="0.9" />
<polygon points="316.3,247.2 321.3,245.5 321.3,248.9" fill="#222" stroke="none" stroke-width="0" />
<line x1="345" y1="318.5" x2="367" y2="318.5" stroke="#222" stroke-width="0.9" />
<polygon points="370.8,318.5 365.8,316.8 365.8,320.2" fill="#222" stroke="none" stroke-width="0" />
<polygon points="308.7,198.4 311.1,200.8 308.7,203.2 306.3,200.8" fill="#0b820b" stroke="none" stroke-width="0" />
<circle cx="333.9" cy="200.9" r="2.1" fill="#0b820b"/>
<rect x="307.1" y="212.1" width="3.2" height="3.2" fill="#111"/>
<polygon points="333.9,211.9 335.9,215.5 331.9,215.5" fill="#111" stroke="none" stroke-width="0" />
<line x1="319.8" y1="203.6" x2="321.9" y2="198.4" stroke="#333" stroke-width="1.15" />
<line x1="319.8" y1="216.8" x2="322.1" y2="210.9" stroke="#333" stroke-width="1.15" />
<text x="345.11" y="203.9" font-size="8.4" fill="#222" stroke="#222" font-weight="normal" textLength="19.16" lengthAdjust="spacingAndGlyphs">BSTS</text>
<text x="345.33" y="217" font-size="8.4" fill="#222" stroke="#222" font-weight="normal" textLength="13.94" lengthAdjust="spacingAndGlyphs">BTS</text>
<text x="238.13" y="347.4" font-size="10.8" fill="#222" stroke="#222" font-weight="normal" textLength="12.26" lengthAdjust="spacingAndGlyphs">50</text>
<text x="231.99" y="301.9" font-size="10.8" fill="#222" stroke="#222" font-weight="normal" textLength="18.41" lengthAdjust="spacingAndGlyphs">100</text>
<text x="231.99" y="256.4" font-size="10.8" fill="#222" stroke="#222" font-weight="normal" textLength="18.41" lengthAdjust="spacingAndGlyphs">150</text>
<text x="232.22" y="210.9" font-size="10.8" fill="#222" stroke="#222" font-weight="normal" textLength="18.18" lengthAdjust="spacingAndGlyphs">200</text>
<text x="425.57" y="325.3" font-size="10.8" fill="#222" stroke="#222" font-weight="normal" textLength="18.02" lengthAdjust="spacingAndGlyphs">800</text>
<text x="425.22" y="295.85" font-size="10.8" fill="#222" stroke="#222" font-weight="normal" textLength="24.78" lengthAdjust="spacingAndGlyphs">1600</text>
<text x="425.45" y="266.4" font-size="10.8" fill="#222" stroke="#222" font-weight="normal" textLength="24.55" lengthAdjust="spacingAndGlyphs">2400</text>
<text x="425.67" y="236.95" font-size="10.8" fill="#222" stroke="#222" font-weight="normal" textLength="24.32" lengthAdjust="spacingAndGlyphs">3200</text>
<text x="425.78" y="207.5" font-size="10.8" fill="#222" stroke="#222" font-weight="normal" textLength="24.21" lengthAdjust="spacingAndGlyphs">4000</text>
<text x="249.26" y="354.4" font-size="10.8" fill="#222" stroke="#222" font-weight="normal" textLength="6.36" lengthAdjust="spacingAndGlyphs">0</text>
<text x="283.28" y="354.4" font-size="10.8" fill="#222" stroke="#222" font-weight="normal" textLength="18.01" lengthAdjust="spacingAndGlyphs">300</text>
<text x="322.9" y="354.4" font-size="10.8" fill="#222" stroke="#222" font-weight="normal" textLength="18.24" lengthAdjust="spacingAndGlyphs">600</text>
<text x="362.87" y="354.4" font-size="10.8" fill="#222" stroke="#222" font-weight="normal" textLength="18.13" lengthAdjust="spacingAndGlyphs">900</text>
<text x="399.33" y="354.4" font-size="10.8" fill="#222" stroke="#222" font-weight="normal" textLength="24.57" lengthAdjust="spacingAndGlyphs">1200</text>
<text x="278.87" y="367.8" font-size="12" fill="#222" stroke="#222" font-weight="normal" textLength="117.58" lengthAdjust="spacingAndGlyphs">Pump power (mW)</text>
<text transform="translate(223.7,334.1) rotate(-90)" font-size="12" fill="#222" stroke="#222" font-weight="normal" textLength="125.83" lengthAdjust="spacingAndGlyphs">Repetition rate (kHz)</text>
<text transform="translate(465.1,328.24) rotate(-90)" font-size="12" fill="#222" stroke="#222" font-weight="normal" textLength="108.93" lengthAdjust="spacingAndGlyphs">Pulse duration (ns)</text>
<text x="212.64" y="195.5" font-size="12.3" fill="#111" stroke="#111" font-weight="bold" textLength="10.85" lengthAdjust="spacingAndGlyphs">d)</text>
<polyline points="501.9,51.24 502.1,51.19 502.3,51.13 502.5,51.06 502.7,50.98 502.9,50.89 503.1,50.79 503.3,50.68 503.5,50.55 503.7,50.41 503.9,50.24 504.1,50.05 504.3,49.84 504.5,49.6 504.7,49.33 504.9,49.03 505.1,48.68 505.3,48.29 505.5,47.85 505.7,47.36 505.9,46.8 506.1,46.18 506.3,45.49 506.5,44.71 506.7,43.84 506.9,42.88 507.1,41.82 507.3,40.65 507.5,39.36 507.7,37.96 507.9,36.43 508.1,34.78 508.3,33.01 508.5,31.12 508.7,29.13 508.9,27.06 509.1,24.91 509.3,22.72 509.5,20.52 509.7,18.35 509.9,16.25 510.1,14.26 510.3,12.44 510.5,10.84 510.7,9.49 510.9,8.43 511.1,7.71 511.3,7.35 511.4,7.3 511.5,7.35 511.7,7.71 511.9,8.43 512.1,9.49 512.3,10.84 512.5,12.44 512.7,14.26 512.9,16.25 513.1,18.35 513.3,20.52 513.5,22.72 513.7,24.91 513.9,27.06 514.1,29.13 514.3,31.12 514.5,33.01 514.7,34.78 514.9,36.43 515.1,37.96 515.3,39.36 515.5,40.65 515.7,41.82 515.9,42.88 516.1,43.84 516.3,44.71 516.5,45.49 516.7,46.18 516.9,46.8 517.1,47.36 517.3,47.85 517.5,48.29 517.7,48.68 517.9,49.02 518.1,49.33 518.3,49.6 518.5,49.84 518.7,50.05 518.9,50.24 519.1,50.4 519.3,50.55 519.5,50.68 519.7,50.79 519.9,50.89 520.1,50.97 520.3,51.05 520.5,51.12 520.7,51.18 520.9,51.23 521.1,51.27 521.3,51.31 521.5,51.35 521.7,51.38 521.9,51.4 522.1,51.42 522.3,51.44 522.5,51.46 522.7,51.47 522.9,51.48 523.1,51.49 523.3,51.49 523.5,51.5 523.7,51.5 523.9,51.5 524.1,51.5 524.3,51.49 524.5,51.49 524.7,51.48 524.9,51.46 525.1,51.45 525.3,51.43 525.5,51.41 525.7,51.39 525.9,51.36 526.1,51.33 526.3,51.29 526.5,51.25 526.7,51.2 526.9,51.15 527.1,51.09 527.3,51.01 527.5,50.93 527.7,50.84 527.9,50.73 528.1,50.61 528.3,50.48 528.5,50.32 528.7,50.15 528.9,49.95 529.1,49.72 529.3,49.47 529.5,49.18 529.7,48.86 529.9,48.49 530.1,48.08 530.3,47.61 530.5,47.09 530.7,46.5 530.9,45.84 531.1,45.11 531.3,44.29 531.5,43.38 531.7,42.37 531.9,41.25 532.1,40.02 532.3,38.68 532.5,37.21 532.7,35.62 532.9,33.91 533.1,32.08 533.3,30.14 533.5,28.1 533.7,25.99 533.9,23.82 534.1,21.62 534.3,19.43 534.5,17.29 534.7,15.24 534.9,13.33 535.1,11.61 535.3,10.13 535.5,8.92 535.7,8.03 535.9,7.48 536.1,7.3 536.1,7.3 536.3,7.48 536.5,8.03 536.7,8.92 536.9,10.13 537.1,11.61 537.3,13.33 537.5,15.24 537.7,17.29 537.9,19.43 538.1,21.62 538.3,23.82 538.5,25.99 538.7,28.1 538.9,30.14 539.1,32.08 539.3,33.91 539.5,35.62 539.7,37.21 539.9,38.68 540.1,40.02 540.3,41.25 540.5,42.37 540.7,43.38 540.9,44.29 541.1,45.11 541.3,45.84 541.5,46.5 541.7,47.09 541.9,47.61 542.1,48.08 542.3,48.49 542.5,48.86 542.7,49.18 542.9,49.47 543.1,49.72 543.3,49.95 543.5,50.15 543.7,50.32 543.9,50.48 544.1,50.61 544.3,50.73 544.5,50.84 544.7,50.93 544.9,51.01 545.1,51.09 545.3,51.15 545.5,51.2 545.7,51.25 545.9,51.29 546.1,51.33 546.3,51.36 546.5,51.39 546.7,51.41 546.9,51.43 547.1,51.45 547.3,51.46 547.5,51.48 547.7,51.49 547.9,51.49 548.1,51.5 548.3,51.5 548.5,51.5 548.7,51.5 548.9,51.49 549.1,51.49 549.3,51.48 549.5,51.47 549.7,51.46 549.9,51.44 550.1,51.42 550.3,51.4 550.5,51.38 550.7,51.35 550.9,51.31 551.1,51.27 551.3,51.23 551.5,51.18 551.7,51.12 551.9,51.05 552.1,50.97 552.3,50.89 552.5,50.79 552.7,50.68 552.9,50.55 553.1,50.4 553.3,50.24 553.5,50.05 553.7,49.84 553.9,49.6 554.1,49.33 554.3,49.02 554.5,48.68 554.7,48.29 554.9,47.85 555.1,47.36 555.3,46.8 555.5,46.18 555.7,45.49 555.9,44.71 556.1,43.84 556.3,42.88 556.5,41.82 556.7,40.65 556.9,39.36 557.1,37.96 557.3,36.43 557.5,34.78 557.7,33.01 557.9,31.12 558.1,29.13 558.3,27.06 558.5,24.91 558.7,22.72 558.9,20.52 559.1,18.35 559.3,16.25 559.5,14.26 559.7,12.44 559.9,10.84 560.1,9.49 560.3,8.43 560.5,7.71 560.7,7.35 560.8,7.3 560.9,7.35 561.1,7.71 561.3,8.43 561.5,9.49 561.7,10.84 561.9,12.44 562.1,14.26 562.3,16.25 562.5,18.35 562.7,20.52 562.9,22.72 563.1,24.91 563.3,27.06 563.5,29.13 563.7,31.12 563.9,33.01 564.1,34.78 564.3,36.43 564.5,37.96 564.7,39.36 564.9,40.65 565.1,41.82 565.3,42.88 565.5,43.84 565.7,44.71 565.9,45.49 566.1,46.18 566.3,46.8 566.5,47.36 566.7,47.85 566.9,48.29 567.1,48.68 567.3,49.02 567.5,49.33 567.7,49.6 567.9,49.84 568.1,50.05 568.3,50.24 568.5,50.4 568.7,50.55 568.9,50.68 569.1,50.79 569.3,50.89 569.5,50.97 569.7,51.05 569.9,51.12 570.1,51.18 570.3,51.23 570.5,51.27 570.7,51.31 570.9,51.35 571.1,51.38 571.3,51.4 571.5,51.42 571.7,51.44 571.9,51.46 572.1,51.47 572.3,51.48 572.5,51.49 572.7,51.49 572.9,51.5 573.1,51.5 573.3,51.5 573.5,51.5 573.7,51.49 573.9,51.49 574.1,51.48 574.3,51.46 574.5,51.45 574.7,51.43 574.9,51.41 575.1,51.39 575.3,51.36 575.5,51.33 575.7,51.29 575.9,51.25 576.1,51.2 576.3,51.15 576.5,51.09 576.7,51.01 576.9,50.93 577.1,50.84 577.3,50.73 577.5,50.61 577.7,50.48 577.9,50.32 578.1,50.15 578.3,49.95 578.5,49.72 578.7,49.47 578.9,49.18 579.1,48.86 579.3,48.49 579.5,48.08 579.7,47.61 579.9,47.09 580.1,46.5 580.3,45.84 580.5,45.11 580.7,44.29 580.9,43.38 581.1,42.37 581.3,41.25 581.5,40.02 581.7,38.68 581.9,37.21 582.1,35.62 582.3,33.91 582.5,32.08 582.7,30.14 582.9,28.1 583.1,25.99 583.3,23.82 583.5,21.62 583.7,19.43 583.9,17.29 584.1,15.24 584.3,13.33 584.5,11.61 584.7,10.13 584.9,8.92 585.1,8.03 585.3,7.48 585.5,7.3 585.5,7.3 585.7,7.48 585.9,8.03 586.1,8.92 586.3,10.13 586.5,11.61 586.7,13.33 586.9,15.24 587.1,17.29 587.3,19.43 587.5,21.62 587.7,23.82 587.9,25.99 588.1,28.1 588.3,30.14 588.5,32.08 588.7,33.91 588.9,35.62 589.1,37.21 589.3,38.68 589.5,40.02 589.7,41.25 589.9,42.37 590.1,43.38 590.3,44.29 590.5,45.11 590.7,45.84 590.9,46.5 591.1,47.09 591.3,47.61 591.5,48.08 591.7,48.49 591.9,48.86 592.1,49.18 592.3,49.47 592.5,49.72 592.7,49.95 592.9,50.15 593.1,50.32 593.3,50.48 593.5,50.61 593.7,50.73 593.9,50.84 594.1,50.93 594.3,51.01 594.5,51.09 594.7,51.15 594.9,51.2 595.1,51.25 595.3,51.29 595.5,51.33 595.7,51.36 595.9,51.39 596.1,51.41 596.3,51.43 596.5,51.45 596.7,51.46 596.9,51.48 597.1,51.49 597.3,51.49 597.5,51.5 597.7,51.5 597.9,51.5 598.1,51.5 598.3,51.49 598.5,51.49 598.7,51.48 598.9,51.47 599.1,51.46 599.3,51.44 599.5,51.42 599.7,51.4 599.9,51.38 600.1,51.35 600.3,51.31 600.5,51.27 600.7,51.23 600.9,51.18 601.1,51.12 601.3,51.05 601.5,50.97 601.7,50.89 601.9,50.79 602.1,50.68 602.3,50.55 602.5,50.4 602.7,50.24 602.9,50.05 603.1,49.84 603.3,49.6 603.5,49.33 603.7,49.02 603.9,48.68 604.1,48.29 604.3,47.85 604.5,47.36 604.7,46.8 604.9,46.18 605.1,45.49 605.3,44.71 605.5,43.84 605.7,42.88 605.9,41.82 606.1,40.65 606.3,39.36 606.5,37.96 606.7,36.43 606.9,34.78 607.1,33.01 607.3,31.12 607.5,29.13 607.7,27.06 607.9,24.91 608.1,22.72 608.3,20.52 608.5,18.35 608.7,16.25 608.9,14.26 609.1,12.44 609.3,10.84 609.5,9.49 609.7,8.43 609.9,7.71 610.1,7.35 610.2,7.3 610.3,7.35 610.5,7.71 610.7,8.43 610.9,9.49 611.1,10.84 611.3,12.44 611.5,14.26 611.7,16.25 611.9,18.35 612.1,20.52 612.3,22.72 612.5,24.91 612.7,27.06 612.9,29.13 613.1,31.12 613.3,33.01 613.5,34.78 613.7,36.43 613.9,37.96 614.1,39.36 614.3,40.65 614.5,41.82 614.7,42.88 614.9,43.84 615.1,44.71 615.3,45.49 615.5,46.18 615.7,46.8 615.9,47.36 616.1,47.85 616.3,48.29 616.5,48.68 616.7,49.02 616.9,49.33 617.1,49.6 617.3,49.84 617.5,50.05 617.7,50.24 617.9,50.4 618.1,50.55 618.3,50.68 618.5,50.79 618.7,50.89 618.9,50.97 619.1,51.05 619.3,51.12 619.5,51.18 619.7,51.23 619.9,51.27 620.1,51.31 620.3,51.35 620.5,51.38 620.7,51.4 620.9,51.42 621.1,51.44 621.3,51.46 621.5,51.47 621.7,51.48 621.9,51.49 622.1,51.49 622.3,51.5 622.5,51.5 622.7,51.5 622.9,51.5 623.1,51.49 623.3,51.49 623.5,51.48 623.7,51.46 623.9,51.45 624.1,51.43 624.3,51.41 624.5,51.39 624.7,51.36 624.9,51.33 625.1,51.29 625.3,51.25 625.5,51.2 625.7,51.15 625.9,51.09 626.1,51.01 626.3,50.93 626.5,50.84 626.7,50.73 626.9,50.61 627.1,50.48 627.3,50.32 627.5,50.15 627.7,49.95 627.9,49.72 628.1,49.47 628.3,49.18 628.5,48.86 628.7,48.49 628.9,48.08 629.1,47.61 629.3,47.09 629.5,46.5 629.7,45.84 629.9,45.11 630.1,44.29 630.3,43.38 630.5,42.37 630.7,41.25 630.9,40.02 631.1,38.68 631.3,37.21 631.5,35.62 631.7,33.91 631.9,32.08 632.1,30.14 632.3,28.1 632.5,25.99 632.7,23.82 632.9,21.62 633.1,19.43 633.3,17.29 633.5,15.24 633.7,13.33 633.9,11.61 634.1,10.13 634.3,8.92 634.5,8.03 634.7,7.48 634.9,7.3 634.9,7.3 635.1,7.48 635.3,8.03 635.5,8.92 635.7,10.13 635.9,11.61 636.1,13.33 636.3,15.24 636.5,17.29 636.7,19.43 636.9,21.62 637.1,23.82 637.3,25.99 637.5,28.1 637.7,30.14 637.9,32.08 638.1,33.91 638.3,35.62 638.5,37.21 638.7,38.68 638.9,40.02 639.1,41.25 639.3,42.37 639.5,43.38 639.7,44.29 639.9,45.11 640.1,45.84 640.3,46.5 640.5,47.09 640.7,47.61 640.9,48.08 641.1,48.49 641.3,48.86 641.5,49.18 641.7,49.47 641.9,49.72 642.1,49.95 642.3,50.15 642.5,50.32 642.7,50.48 642.9,50.61 643.1,50.73 643.3,50.84 643.5,50.93 643.7,51.01 643.9,51.09 644.1,51.15 644.3,51.2 644.5,51.25 644.7,51.29 644.9,51.33 645.1,51.36 645.3,51.39 645.5,51.41 645.7,51.43 645.9,51.45 646.1,51.46 646.3,51.48 646.5,51.49 646.7,51.49 646.9,51.5 647.1,51.5 647.3,51.5 647.5,51.5 647.7,51.49 647.9,51.49 648.1,51.48 648.3,51.47 648.5,51.46 648.7,51.44 648.9,51.42 649.1,51.4 649.3,51.38 649.5,51.35 649.7,51.31 649.9,51.27 650.1,51.23 650.3,51.18 650.5,51.12 650.7,51.05 650.9,50.97 651.1,50.89 651.3,50.79 651.5,50.68 651.7,50.55 651.9,50.4 652.1,50.24 652.3,50.05 652.5,49.84 652.7,49.6 652.9,49.33 653.1,49.02 653.3,48.68 653.5,48.29 653.7,47.85 653.9,47.36 654.1,46.8 654.3,46.18 654.5,45.49 654.7,44.71 654.9,43.84 655.1,42.88 655.3,41.82 655.5,40.65 655.7,39.36 655.9,37.96 656.1,36.43 656.3,34.78 656.5,33.01 656.7,31.12 656.9,29.13 657.1,27.06 657.3,24.91 657.5,22.72 657.7,20.52 657.9,18.35 658.1,16.25 658.3,14.26 658.5,12.44 658.7,10.84 658.9,9.49 659.1,8.43 659.3,7.71 659.5,7.35 659.6,7.3 659.7,7.35 659.9,7.71 660.1,8.43 660.3,9.49 660.5,10.84 660.7,12.44 660.9,14.26 661.1,16.25 661.3,18.35 661.5,20.52 661.7,22.72" fill="none" stroke="#2a2a2a" stroke-width="1.05" stroke-linejoin="round" />
<polyline points="501.9,100.7 502.1,100.68 502.3,100.65 502.5,100.63 502.7,100.6 502.9,100.57 503.1,100.53 503.3,100.49 503.5,100.45 503.7,100.4 503.9,100.35 504.1,100.29 504.3,100.22 504.5,100.15 504.7,100.06 504.9,99.97 505.1,99.85 505.3,99.73 505.5,99.58 505.7,99.4 505.9,99.17 506.1,98.87 506.3,98.42 506.5,97.69 506.7,96.46 506.9,94.41 507.1,91.19 507.3,86.49 507.5,80.28 507.7,73.01 507.9,65.65 508.1,59.56 508.3,56.1 508.4,55.64 508.5,56.09 508.7,59.55 508.9,65.63 509.1,72.99 509.3,80.25 509.5,86.45 509.7,91.14 509.9,94.35 510.1,96.39 510.3,97.61 510.5,98.33 510.7,98.78 510.9,99.07 511.1,99.29 511.3,99.46 511.5,99.6 511.7,99.71 511.9,99.82 512.1,99.9 512.3,99.97 512.5,100.04 512.7,100.09 512.9,100.14 513.1,100.18 513.3,100.21 513.5,100.23 513.7,100.25 513.9,100.27 514.1,100.28 514.3,100.29 514.5,100.29 514.7,100.29 514.9,100.29 515.1,100.28 515.3,100.26 515.5,100.25 515.7,100.22 515.9,100.19 516.1,100.16 516.3,100.12 516.5,100.07 516.7,100.02 516.9,99.95 517.1,99.88 517.3,99.79 517.5,99.69 517.7,99.57 517.9,99.43 518.1,99.26 518.3,99.05 518.5,98.76 518.7,98.33 518.9,97.64 519.1,96.48 519.3,94.54 519.5,91.45 519.7,86.91 519.9,80.85 520.1,73.65 520.3,66.25 520.5,59.97 520.7,56.2 520.82,55.54 520.9,55.83 521.1,58.98 521.3,64.85 521.5,72.15 521.7,79.47 521.9,85.81 522.1,90.66 522.3,94.01 522.5,96.15 522.7,97.44 522.9,98.21 523.1,98.67 523.3,98.98 523.5,99.2 523.7,99.38 523.9,99.52 524.1,99.64 524.3,99.75 524.5,99.84 524.7,99.91 524.9,99.98 525.1,100.03 525.3,100.08 525.5,100.12 525.7,100.15 525.9,100.18 526.1,100.21 526.3,100.22 526.5,100.24 526.7,100.24 526.9,100.25 527.1,100.25 527.3,100.25 527.5,100.24 527.7,100.22 527.9,100.21 528.1,100.19 528.3,100.16 528.5,100.13 528.7,100.09 528.9,100.04 529.1,99.99 529.3,99.92 529.5,99.85 529.7,99.76 529.9,99.67 530.1,99.55 530.3,99.41 530.5,99.25 530.7,99.04 530.9,98.76 531.1,98.35 531.3,97.7 531.5,96.6 531.7,94.75 531.9,91.79 532.1,87.41 532.3,81.49 532.5,74.38 532.7,66.94 532.9,60.48 533.1,56.4 533.24,55.52 533.3,55.68 533.5,58.5 533.7,64.15 533.9,71.37 534.1,78.75 534.3,85.22 534.5,90.22 534.7,93.72 534.9,95.96 535.1,97.32 535.3,98.13 535.5,98.61 535.7,98.93 535.9,99.16 536.1,99.34 536.3,99.49 536.5,99.61 536.7,99.72 536.9,99.81 537.1,99.89 537.3,99.95 537.5,100.01 537.7,100.06 537.9,100.1 538.1,100.14 538.3,100.16 538.5,100.19 538.7,100.21 538.9,100.22 539.1,100.23 539.3,100.23 539.5,100.23 539.7,100.23 539.9,100.22 540.1,100.21 540.3,100.2 540.5,100.17 540.7,100.15 540.9,100.12 541.1,100.08 541.3,100.03 541.5,99.98 541.7,99.92 541.9,99.85 542.1,99.76 542.3,99.66 542.5,99.55 542.7,99.41 542.9,99.25 543.1,99.05 543.3,98.78 543.5,98.39 543.7,97.77 543.9,96.72 544.1,94.97 544.3,92.14 544.5,87.91 544.7,82.14 544.9,75.11 545.1,67.65 545.3,61.03 545.5,56.66 545.66,55.51 545.7,55.58 545.9,58.06 546.1,63.49 546.3,70.61 546.5,78.03 546.7,84.62 546.9,89.78 547.1,93.42 547.3,95.78 547.5,97.21 547.7,98.05 547.9,98.57 548.1,98.9 548.3,99.13 548.5,99.32 548.7,99.47 548.9,99.59 549.1,99.7 549.3,99.79 549.5,99.87 549.7,99.94 549.9,100 550.1,100.05 550.3,100.09 550.5,100.12 550.7,100.15 550.9,100.18 551.1,100.2 551.3,100.21 551.5,100.22 551.7,100.23 551.9,100.23 552.1,100.23 552.3,100.22 552.5,100.21 552.7,100.19 552.9,100.17 553.1,100.14 553.3,100.11 553.5,100.08 553.7,100.03 553.9,99.98 554.1,99.92 554.3,99.85 554.5,99.76 554.7,99.67 554.9,99.56 555.1,99.42 555.3,99.26 555.5,99.07 555.7,98.81 555.9,98.43 556.1,97.84 556.3,96.85 556.5,95.18 556.7,92.48 556.9,88.39 557.1,82.77 557.3,75.85 557.5,68.38 557.7,61.61 557.9,56.96 558.08,55.5 558.1,55.52 558.3,57.66 558.5,62.84 558.7,69.86 558.9,77.31 559.1,84.02 559.3,89.33 559.5,93.12 559.7,95.58 559.9,97.09 560.1,97.98 560.3,98.52 560.5,98.87 560.7,99.11 560.9,99.3 561.1,99.45 561.3,99.58 561.5,99.69 561.7,99.78 561.9,99.86 562.1,99.93 562.3,99.99 562.5,100.04 562.7,100.08 562.9,100.12 563.1,100.15 563.3,100.17 563.5,100.19 563.7,100.21 563.9,100.22 564.1,100.22 564.3,100.22 564.5,100.22 564.7,100.22 564.9,100.2 565.1,100.19 565.3,100.17 565.5,100.14 565.7,100.11 565.9,100.08 566.1,100.03 566.3,99.98 566.5,99.92 566.7,99.85 566.9,99.77 567.1,99.68 567.3,99.56 567.5,99.43 567.7,99.28 567.9,99.09 568.1,98.84 568.3,98.48 568.5,97.91 568.7,96.97 568.9,95.38 569.1,92.8 569.3,88.87 569.5,83.4 569.7,76.58 569.9,69.11 570.1,62.21 570.3,57.29 570.5,55.5 570.5,55.5 570.7,57.29 570.9,62.21 571.1,69.11 571.3,76.58 571.5,83.4 571.7,88.87 571.9,92.8 572.1,95.38 572.3,96.97 572.5,97.91 572.7,98.48 572.9,98.83 573.1,99.09 573.3,99.28 573.5,99.43 573.7,99.56 573.9,99.67 574.1,99.77 574.3,99.85 574.5,99.92 574.7,99.98 574.9,100.03 575.1,100.08 575.3,100.11 575.5,100.14 575.7,100.17 575.9,100.19 576.1,100.2 576.3,100.21 576.5,100.22 576.7,100.22 576.9,100.22 577.1,100.21 577.3,100.2 577.5,100.19 577.7,100.17 577.9,100.15 578.1,100.12 578.3,100.08 578.5,100.04 578.7,99.99 578.9,99.93 579.1,99.86 579.3,99.78 579.5,99.68 579.7,99.58 579.9,99.45 580.1,99.29 580.3,99.11 580.5,98.86 580.7,98.52 580.9,97.98 581.1,97.09 581.3,95.58 581.5,93.11 581.7,89.33 581.9,84.01 582.1,77.3 582.3,69.86 582.5,62.84 582.7,57.66 582.9,55.52 582.92,55.5 583.1,56.96 583.3,61.61 583.5,68.37 583.7,75.84 583.9,82.77 584.1,88.39 584.3,92.47 584.5,95.18 584.7,96.85 584.9,97.84 585.1,98.43 585.3,98.8 585.5,99.06 585.7,99.26 585.9,99.42 586.1,99.55 586.3,99.66 586.5,99.76 586.7,99.84 586.9,99.91 587.1,99.97 587.3,100.03 587.5,100.07 587.7,100.11 587.9,100.14 588.1,100.17 588.3,100.19 588.5,100.2 588.7,100.21 588.9,100.22 589.1,100.22 589.3,100.22 589.5,100.22 589.7,100.21 589.9,100.19 590.1,100.17 590.3,100.15 590.5,100.12 590.7,100.08 590.9,100.04 591.1,99.99 591.3,99.93 591.5,99.87 591.7,99.79 591.9,99.69 592.1,99.59 592.3,99.46 592.5,99.31 592.7,99.13 592.9,98.89 593.1,98.56 593.3,98.05 593.5,97.2 593.7,95.77 593.9,93.41 594.1,89.78 594.3,84.61 594.5,78.02 594.7,70.6 594.9,63.48 595.1,58.05 595.3,55.57 595.34,55.5 595.5,56.65 595.7,61.03 595.9,67.64 596.1,75.1 596.3,82.13 596.5,87.9 596.7,92.13 596.9,94.96 597.1,96.72 597.3,97.76 597.5,98.38 597.7,98.77 597.9,99.04 598.1,99.24 598.3,99.41 598.5,99.54 598.7,99.65 598.9,99.75 599.1,99.84 599.3,99.91 599.5,99.97 599.7,100.02 599.9,100.07 600.1,100.11 600.3,100.14 600.5,100.16 600.7,100.19 600.9,100.2 601.1,100.21 601.3,100.22 601.5,100.22 601.7,100.22 601.9,100.22 602.1,100.21 602.3,100.19 602.5,100.18 602.7,100.15 602.9,100.12 603.1,100.09 603.3,100.05 603.5,100 603.7,99.94 603.9,99.87 604.1,99.8 604.3,99.71 604.5,99.6 604.7,99.48 604.9,99.33 605.1,99.15 605.3,98.92 605.5,98.6 605.7,98.11 605.9,97.31 606.1,95.95 606.3,93.7 606.5,90.21 606.7,85.2 606.9,78.74 607.1,71.36 607.3,64.14 607.5,58.48 607.7,55.67 607.76,55.5 607.9,56.39 608.1,60.47 608.3,66.92 608.5,74.36 608.7,81.48 608.9,87.39 609.1,91.78 609.3,94.73 609.5,96.58 609.7,97.68 609.9,98.34 610.1,98.74 610.3,99.02 610.5,99.23 610.7,99.39 610.9,99.53 611.1,99.65 611.3,99.75 611.5,99.83 611.7,99.9 611.9,99.97 612.1,100.02 612.3,100.07 612.5,100.11 612.7,100.14 612.9,100.17 613.1,100.19 613.3,100.2 613.5,100.22 613.7,100.22 613.9,100.23 614.1,100.23 614.3,100.22 614.5,100.21 614.7,100.2 614.9,100.18 615.1,100.16 615.3,100.13 615.5,100.1 615.7,100.06 615.9,100.01 616.1,99.95 616.3,99.89 616.5,99.81 616.7,99.72 616.9,99.62 617.1,99.49 617.3,99.35 617.5,99.17 617.7,98.95 617.9,98.64 618.1,98.18 618.3,97.41 618.5,96.12 618.7,93.98 618.9,90.63 619.1,85.78 619.3,79.44 619.5,72.11 619.7,64.82 619.9,58.94 620.1,55.8 620.18,55.51 620.3,56.16 620.5,59.94 620.7,66.21 620.9,73.62 621.1,80.81 621.3,86.87 621.5,91.41 621.7,94.5 621.9,96.44 622.1,97.6 622.3,98.29 622.5,98.72 622.7,99 622.9,99.22 623.1,99.38 623.3,99.52 623.5,99.64 623.7,99.74 623.9,99.83 624.1,99.9 624.3,99.97 624.5,100.02 624.7,100.07 624.9,100.11 625.1,100.14 625.3,100.17 625.5,100.19 625.7,100.21 625.9,100.22 626.1,100.23 626.3,100.23 626.5,100.23 626.7,100.23 626.9,100.22 627.1,100.21 627.3,100.19 627.5,100.17 627.7,100.14 627.9,100.11 628.1,100.07 628.3,100.02 628.5,99.97 628.7,99.9 628.9,99.83 629.1,99.74 629.3,99.64 629.5,99.52 629.7,99.37 629.9,99.2 630.1,98.99 630.3,98.69 630.5,98.24 630.7,97.52 630.9,96.29 631.1,94.26 631.3,91.04 631.5,86.34 631.7,80.14 631.9,72.88 632.1,65.52 632.3,59.44 632.5,55.97 632.6,55.52 632.7,55.97 632.9,59.44 633.1,65.52 633.3,72.88 633.5,80.14 633.7,86.34 633.9,91.04 634.1,94.26 634.3,96.3 634.5,97.52 634.7,98.25 634.9,98.69 635.1,98.99 635.3,99.21 635.5,99.38 635.7,99.52 635.9,99.64 636.1,99.75 636.3,99.83 636.5,99.91 636.7,99.98 636.9,100.03 637.1,100.08 637.3,100.12 637.5,100.15 637.7,100.18 637.9,100.2 638.1,100.22 638.3,100.24 638.5,100.24 638.7,100.25 638.9,100.25 639.1,100.25 639.3,100.24 639.5,100.23 639.7,100.21 639.9,100.19 640.1,100.16 640.3,100.13 640.5,100.09 640.7,100.04 640.9,99.99 641.1,99.93 641.3,99.85 641.5,99.77 641.7,99.66 641.9,99.55 642.1,99.41 642.3,99.24 642.5,99.03 642.7,98.74 642.9,98.32 643.1,97.63 643.3,96.47 643.5,94.53 643.7,91.44 643.9,86.9 644.1,80.84 644.3,73.65 644.5,66.25 644.7,59.97 644.9,56.19 645.02,55.54 645.1,55.83 645.3,58.98 645.5,64.86 645.7,72.15 645.9,79.48 646.1,85.81 646.3,90.67 646.5,94.02 646.7,96.16 646.9,97.46 647.1,98.22 647.3,98.69 647.5,99 647.7,99.22 647.9,99.4 648.1,99.54 648.3,99.66 648.5,99.77 648.7,99.86 648.9,99.94 649.1,100 649.3,100.06 649.5,100.11 649.7,100.15 649.9,100.19 650.1,100.22 650.3,100.24 650.5,100.26 650.7,100.27 650.9,100.29 651.1,100.29 651.3,100.29 651.5,100.29 651.7,100.28 651.9,100.27 652.1,100.26 652.3,100.24 652.5,100.21 652.7,100.18 652.9,100.15 653.1,100.1 653.3,100.05 653.5,99.99 653.7,99.92 653.9,99.83 654.1,99.74 654.3,99.62 654.5,99.49 654.7,99.32 654.9,99.12 655.1,98.85 655.3,98.44 655.5,97.79 655.7,96.69 655.9,94.84 656.1,91.89 656.3,87.51 656.5,81.6 656.7,74.48 656.9,67.05 657.1,60.6 657.3,56.52 657.44,55.64 657.5,55.8 657.7,58.62 657.9,64.29 658.1,71.51 658.3,78.89 658.5,85.36 658.7,90.37 658.9,93.87 659.1,96.12 659.3,97.49 659.5,98.3 659.7,98.79 659.9,99.12 660.1,99.36 660.3,99.54 660.5,99.7 660.7,99.83 660.9,99.94 661.1,100.04 661.3,100.13 661.5,100.21 661.7,100.28" fill="none" stroke="#3a803a" stroke-width="1.05" stroke-linejoin="round" />
<polyline points="501.9,150.3 502.1,150.26 502.3,150.22 502.5,150.18 502.7,150.13 502.9,150.07 503.1,150 503.3,149.92 503.5,149.83 503.7,149.73 503.9,149.61 504.1,149.46 504.3,149.29 504.5,149.06 504.7,148.74 504.9,148.23 505.1,147.31 505.3,145.62 505.5,142.63 505.7,137.78 505.9,130.84 506.1,122.34 506.3,113.75 506.5,107.25 506.7,104.8 506.7,104.8 506.9,107.23 507.1,113.72 507.3,122.29 507.5,130.78 507.7,137.7 507.9,142.54 508.1,145.51 508.3,147.18 508.5,148.08 508.7,148.57 508.9,148.87 509.1,149.07 509.3,149.23 509.5,149.35 509.7,149.44 509.9,149.52 510.1,149.58 510.3,149.62 510.5,149.65 510.7,149.66 510.9,149.67 511.1,149.66 511.3,149.64 511.5,149.61 511.7,149.56 511.9,149.5 512.1,149.42 512.3,149.32 512.5,149.2 512.7,149.05 512.9,148.84 513.1,148.55 513.3,148.09 513.5,147.25 513.7,145.7 513.9,142.91 514.1,138.33 514.3,131.65 514.5,123.29 514.7,114.6 514.9,107.73 515.1,104.71 515.12,104.67 515.3,106.54 515.5,112.62 515.7,121.06 515.9,129.67 516.1,136.84 516.3,141.94 516.5,145.12 516.7,146.93 516.9,147.9 517.1,148.43 517.3,148.75 517.5,148.97 517.7,149.13 517.9,149.26 518.1,149.36 518.3,149.44 518.5,149.5 518.7,149.55 518.9,149.58 519.1,149.6 519.3,149.6 519.5,149.6 519.7,149.58 519.9,149.56 520.1,149.51 520.3,149.46 520.5,149.38 520.7,149.29 520.9,149.17 521.1,149.02 521.3,148.83 521.5,148.55 521.7,148.12 521.9,147.34 522.1,145.91 522.3,143.31 522.5,138.97 522.7,132.56 522.9,124.35 523.1,115.6 523.3,108.37 523.5,104.79 523.55,104.63 523.7,106.02 523.9,111.65 524.1,119.92 524.3,128.62 524.5,136.02 524.7,141.38 524.9,144.78 525.1,146.73 525.3,147.78 525.5,148.35 525.7,148.69 525.9,148.92 526.1,149.09 526.3,149.22 526.5,149.32 526.7,149.4 526.9,149.47 527.1,149.52 527.3,149.55 527.5,149.57 527.7,149.58 527.9,149.58 528.1,149.57 528.3,149.54 528.5,149.5 528.7,149.44 528.9,149.37 529.1,149.28 529.3,149.17 529.5,149.02 529.7,148.84 529.9,148.58 530.1,148.17 530.3,147.45 530.5,146.12 530.7,143.7 530.9,139.61 531.1,133.46 531.3,125.42 531.5,116.64 531.7,109.1 531.9,104.97 531.98,104.62 532.1,105.59 532.3,110.75 532.5,118.81 532.7,127.56 532.9,135.19 533.1,140.82 533.3,144.44 533.5,146.53 533.7,147.67 533.9,148.29 534.1,148.64 534.3,148.88 534.5,149.06 534.7,149.19 534.9,149.3 535.1,149.38 535.3,149.45 535.5,149.5 535.7,149.54 535.9,149.56 536.1,149.57 536.3,149.57 536.5,149.56 536.7,149.53 536.9,149.49 537.1,149.44 537.3,149.37 537.5,149.28 537.7,149.17 537.9,149.03 538.1,148.85 538.3,148.6 538.5,148.22 538.7,147.56 538.9,146.33 539.1,144.07 539.3,140.22 539.5,134.33 539.7,126.49 539.9,117.71 540.1,109.89 540.3,105.23 540.4,104.61 540.5,105.23 540.7,109.89 540.9,117.71 541.1,126.49 541.3,134.33 541.5,140.22 541.7,144.07 541.9,146.33 542.1,147.56 542.3,148.22 542.5,148.6 542.7,148.85 542.9,149.03 543.1,149.17 543.3,149.28 543.5,149.37 543.7,149.44 543.9,149.49 544.1,149.53 544.3,149.55 544.5,149.56 544.7,149.56 544.9,149.55 545.1,149.53 545.3,149.49 545.5,149.44 545.7,149.38 545.9,149.29 546.1,149.18 546.3,149.05 546.5,148.87 546.7,148.64 546.9,148.28 547.1,147.66 547.3,146.52 547.5,144.43 547.7,140.8 547.9,135.18 548.1,127.55 548.3,118.8 548.5,110.73 548.7,105.57 548.83,104.61 548.9,104.96 549.1,109.09 549.3,116.63 549.5,125.41 549.7,133.44 549.9,139.6 550.1,143.69 550.3,146.11 550.5,147.44 550.7,148.15 550.9,148.56 551.1,148.82 551.3,149.01 551.5,149.15 551.7,149.26 551.9,149.35 552.1,149.42 552.3,149.48 552.5,149.52 552.7,149.55 552.9,149.56 553.1,149.56 553.3,149.55 553.5,149.53 553.7,149.5 553.9,149.45 554.1,149.38 554.3,149.3 554.5,149.19 554.7,149.06 554.9,148.89 555.1,148.67 555.3,148.33 555.5,147.75 555.7,146.7 555.9,144.76 556.1,141.36 556.3,136 556.5,128.59 556.7,119.9 556.9,111.62 557.1,105.99 557.25,104.6 557.3,104.76 557.5,108.34 557.7,115.57 557.9,124.32 558.1,132.52 558.3,138.94 558.5,143.27 558.7,145.87 558.9,147.31 559.1,148.08 559.3,148.52 559.5,148.79 559.7,148.98 559.9,149.13 560.1,149.25 560.3,149.34 560.5,149.41 560.7,149.47 560.9,149.51 561.1,149.54 561.3,149.56 561.5,149.56 561.7,149.55 561.9,149.53 562.1,149.5 562.3,149.45 562.5,149.39 562.7,149.31 562.9,149.21 563.1,149.08 563.3,148.92 563.5,148.7 563.7,148.38 563.9,147.84 564.1,146.87 564.3,145.06 564.5,141.88 564.7,136.78 564.9,129.61 565.1,121 565.3,112.56 565.5,106.48 565.67,104.6 565.7,104.64 565.9,107.66 566.1,114.53 566.3,123.21 566.5,131.58 566.7,138.25 566.9,142.84 567.1,145.62 567.3,147.17 567.5,148.01 567.7,148.47 567.9,148.76 568.1,148.96 568.3,149.11 568.5,149.23 568.7,149.33 568.9,149.4 569.1,149.46 569.3,149.51 569.5,149.54 569.7,149.55 569.9,149.56 570.1,149.55 570.3,149.53 570.5,149.5 570.7,149.46 570.9,149.4 571.1,149.32 571.3,149.22 571.5,149.09 571.7,148.94 571.9,148.73 572.1,148.42 572.3,147.93 572.5,147.03 572.7,145.35 572.9,142.37 573.1,137.53 573.3,130.61 573.5,122.11 573.7,113.53 573.9,107.03 574.1,104.6 574.1,104.6 574.3,107.03 574.5,113.53 574.7,122.11 574.9,130.61 575.1,137.53 575.3,142.37 575.5,145.35 575.7,147.03 575.9,147.93 576.1,148.42 576.3,148.73 576.5,148.94 576.7,149.09 576.9,149.22 577.1,149.32 577.3,149.4 577.5,149.46 577.7,149.5 577.9,149.53 578.1,149.55 578.3,149.56 578.5,149.55 578.7,149.54 578.9,149.51 579.1,149.46 579.3,149.4 579.5,149.33 579.7,149.23 579.9,149.11 580.1,148.96 580.3,148.76 580.5,148.47 580.7,148 580.9,147.17 581.1,145.62 581.3,142.83 581.5,138.25 581.7,131.58 581.9,123.21 582.1,114.53 582.3,107.66 582.5,104.64 582.52,104.6 582.7,106.48 582.9,112.56 583.1,121 583.3,129.61 583.5,136.78 583.7,141.88 583.9,145.06 584.1,146.87 584.3,147.84 584.5,148.38 584.7,148.7 584.9,148.91 585.1,149.08 585.3,149.2 585.5,149.31 585.7,149.39 585.9,149.45 586.1,149.5 586.3,149.53 586.5,149.55 586.7,149.56 586.9,149.55 587.1,149.54 587.3,149.51 587.5,149.47 587.7,149.41 587.9,149.34 588.1,149.25 588.3,149.13 588.5,148.98 588.7,148.79 588.9,148.51 589.1,148.08 589.3,147.31 589.5,145.87 589.7,143.27 589.9,138.94 590.1,132.52 590.3,124.31 590.5,115.57 590.7,108.34 590.9,104.76 590.95,104.6 591.1,105.99 591.3,111.62 591.5,119.89 591.7,128.59 591.9,135.99 592.1,141.35 592.3,144.75 592.5,146.7 592.7,147.75 592.9,148.32 593.1,148.66 593.3,148.89 593.5,149.06 593.7,149.19 593.9,149.29 594.1,149.38 594.3,149.44 594.5,149.49 594.7,149.53 594.9,149.55 595.1,149.56 595.3,149.56 595.5,149.54 595.7,149.52 595.9,149.48 596.1,149.42 596.3,149.35 596.5,149.26 596.7,149.14 596.9,149 597.1,148.81 597.3,148.55 597.5,148.15 597.7,147.43 597.9,146.1 598.1,143.68 598.3,139.59 598.5,133.44 598.7,125.41 598.9,116.63 599.1,109.08 599.3,104.95 599.38,104.6 599.5,105.57 599.7,110.73 599.9,118.79 600.1,127.54 600.3,135.17 600.5,140.8 600.7,144.42 600.9,146.52 601.1,147.65 601.3,148.27 601.5,148.63 601.7,148.87 601.9,149.04 602.1,149.18 602.3,149.28 602.5,149.37 602.7,149.44 602.9,149.49 603.1,149.52 603.3,149.55 603.5,149.56 603.7,149.56 603.9,149.55 604.1,149.52 604.3,149.48 604.5,149.43 604.7,149.36 604.9,149.27 605.1,149.16 605.3,149.02 605.5,148.84 605.7,148.59 605.9,148.21 606.1,147.55 606.3,146.32 606.5,144.06 606.7,140.21 606.9,134.32 607.1,126.48 607.3,117.7 607.5,109.88 607.7,105.23 607.8,104.6 607.9,105.23 608.1,109.88 608.3,117.7 608.5,126.49 608.7,134.32 608.9,140.21 609.1,144.07 609.3,146.32 609.5,147.55 609.7,148.21 609.9,148.6 610.1,148.84 610.3,149.02 610.5,149.16 610.7,149.27 610.9,149.36 611.1,149.43 611.3,149.48 611.5,149.52 611.7,149.55 611.9,149.56 612.1,149.56 612.3,149.55 612.5,149.53 612.7,149.49 612.9,149.44 613.1,149.37 613.3,149.29 613.5,149.18 613.7,149.04 613.9,148.87 614.1,148.63 614.3,148.27 614.5,147.66 614.7,146.52 614.9,144.42 615.1,140.8 615.3,135.18 615.5,127.55 615.7,118.8 615.9,110.73 616.1,105.57 616.23,104.61 616.3,104.96 616.5,109.09 616.7,116.63 616.9,125.41 617.1,133.44 617.3,139.6 617.5,143.69 617.7,146.11 617.9,147.44 618.1,148.15 618.3,148.56 618.5,148.82 618.7,149.01 618.9,149.15 619.1,149.27 619.3,149.36 619.5,149.43 619.7,149.48 619.9,149.52 620.1,149.55 620.3,149.56 620.5,149.57 620.7,149.56 620.9,149.53 621.1,149.5 621.3,149.45 621.5,149.39 621.7,149.3 621.9,149.2 622.1,149.07 622.3,148.9 622.5,148.67 622.7,148.33 622.9,147.76 623.1,146.71 623.3,144.76 623.5,141.36 623.7,136 623.9,128.6 624.1,119.9 624.3,111.63 624.5,106 624.65,104.61 624.7,104.77 624.9,108.35 625.1,115.58 625.3,124.32 625.5,132.53 625.7,138.95 625.9,143.28 626.1,145.88 626.3,147.32 626.5,148.09 626.7,148.53 626.9,148.8 627.1,148.99 627.3,149.14 627.5,149.26 627.7,149.35 627.9,149.43 628.1,149.48 628.3,149.52 628.5,149.55 628.7,149.57 628.9,149.57 629.1,149.56 629.3,149.54 629.5,149.51 629.7,149.46 629.9,149.4 630.1,149.32 630.3,149.22 630.5,149.09 630.7,148.93 630.9,148.71 631.1,148.39 631.3,147.86 631.5,146.89 631.7,145.08 631.9,141.89 632.1,136.8 632.3,129.63 632.5,121.02 632.7,112.57 632.9,106.49 633.08,104.62 633.1,104.66 633.3,107.68 633.5,114.55 633.7,123.23 633.9,131.6 634.1,138.27 634.3,142.86 634.5,145.64 634.7,147.19 634.9,148.03 635.1,148.49 635.3,148.78 635.5,148.98 635.7,149.13 635.9,149.25 636.1,149.35 636.3,149.43 636.5,149.49 636.7,149.53 636.9,149.56 637.1,149.58 637.3,149.58 637.5,149.58 637.7,149.56 637.9,149.53 638.1,149.48 638.3,149.42 638.5,149.34 638.7,149.25 638.9,149.12 639.1,148.97 639.3,148.76 639.5,148.45 639.7,147.96 639.9,147.06 640.1,145.38 640.3,142.4 640.5,137.56 640.7,130.64 640.9,122.14 641.1,113.56 641.3,107.07 641.5,104.63 641.5,104.63 641.7,107.07 641.9,113.56 642.1,122.14 642.3,130.64 642.5,137.57 642.7,142.41 642.9,145.39 643.1,147.06 643.3,147.97 643.5,148.46 643.7,148.77 643.9,148.98 644.1,149.14 644.3,149.26 644.5,149.36 644.7,149.44 644.9,149.5 645.1,149.55 645.3,149.58 645.5,149.6 645.7,149.6 645.9,149.6 646.1,149.58 646.3,149.55 646.5,149.51 646.7,149.45 646.9,149.38 647.1,149.28 647.3,149.17 647.5,149.01 647.7,148.81 647.9,148.53 648.1,148.06 648.3,147.23 648.5,145.68 648.7,142.9 648.9,138.31 649.1,131.64 649.3,123.28 649.5,114.6 649.7,107.72 649.9,104.71 649.92,104.67 650.1,106.55 650.3,112.63 650.5,121.07 650.7,129.68 650.9,136.85 651.1,141.95 651.3,145.14 651.5,146.95 651.7,147.92 651.9,148.46 652.1,148.78 652.3,149 652.5,149.17 652.7,149.3 652.9,149.4 653.1,149.48 653.3,149.55 653.5,149.6 653.7,149.63 653.9,149.65 654.1,149.67 654.3,149.66 654.5,149.65 654.7,149.63 654.9,149.59 655.1,149.53 655.3,149.46 655.5,149.37 655.7,149.26 655.9,149.12 656.1,148.93 656.3,148.66 656.5,148.23 656.7,147.46 656.9,146.03 657.1,143.44 657.3,139.11 657.5,132.7 657.7,124.5 657.9,115.76 658.1,108.54 658.3,104.96 658.35,104.8 658.5,106.2 658.7,111.84 658.9,120.12 659.1,128.82 659.3,136.24 659.5,141.61 659.7,145.02 659.9,146.98 660.1,148.05 660.3,148.63 660.5,148.99 660.7,149.23 660.9,149.42 661.1,149.57 661.3,149.7 661.5,149.81 661.7,149.9" fill="none" stroke="#4040b4" stroke-width="1.05" stroke-linejoin="round" />
<rect x="501.4" y="4.5" width="161" height="147.7" fill="none" stroke="#555" stroke-width="1"/>
<line x1="521.52" y1="152.2" x2="521.52" y2="150.9" stroke="#555" stroke-width="0.8" />
<line x1="541.65" y1="152.2" x2="541.65" y2="150.2" stroke="#555" stroke-width="0.8" />
<line x1="561.77" y1="152.2" x2="561.77" y2="150.9" stroke="#555" stroke-width="0.8" />
<line x1="581.9" y1="152.2" x2="581.9" y2="150.2" stroke="#555" stroke-width="0.8" />
<line x1="602.02" y1="152.2" x2="602.02" y2="150.9" stroke="#555" stroke-width="0.8" />
<line x1="622.15" y1="152.2" x2="622.15" y2="150.2" stroke="#555" stroke-width="0.8" />
<line x1="642.27" y1="152.2" x2="642.27" y2="150.9" stroke="#555" stroke-width="0.8" />
<line x1="581.9" y1="4.5" x2="581.9" y2="6.5" stroke="#555" stroke-width="0.8" />
<text x="493.46" y="164" font-size="10.8" fill="#222" stroke="#222" font-weight="normal" textLength="15.73" lengthAdjust="spacingAndGlyphs">-50</text>
<text x="533.53" y="164" font-size="10.8" fill="#222" stroke="#222" font-weight="normal" textLength="16.89" lengthAdjust="spacingAndGlyphs">-25</text>
<text x="579.07" y="164" font-size="10.8" fill="#222" stroke="#222" font-weight="normal" textLength="6.13" lengthAdjust="spacingAndGlyphs">0</text>
<text x="616.98" y="164" font-size="10.8" fill="#222" stroke="#222" font-weight="normal" textLength="11.6" lengthAdjust="spacingAndGlyphs">25</text>
<text x="655.18" y="164" font-size="10.8" fill="#222" stroke="#222" font-weight="normal" textLength="11.81" lengthAdjust="spacingAndGlyphs">50</text>
<text x="559.66" y="172.6" font-size="12" fill="#222" stroke="#222" font-weight="normal" textLength="49.66" lengthAdjust="spacingAndGlyphs">Time (μs)</text>
<text transform="translate(488.1,138.19) rotate(-90)" font-size="12" fill="#222" stroke="#222" font-weight="normal" textLength="111.39" lengthAdjust="spacingAndGlyphs">Normalized intensity</text>
<text transform="translate(673.1,44.4) rotate(-90)" font-size="9.4" fill="#222" stroke="#222" font-weight="normal" textLength="31.1" lengthAdjust="spacingAndGlyphs">70 kHz</text>
<text transform="translate(673.1,95.66) rotate(-90)" font-size="9.4" fill="#3a883a" stroke="#3a883a" font-weight="normal" textLength="34.64" lengthAdjust="spacingAndGlyphs">127 kHz</text>
<text transform="translate(673.1,145.65) rotate(-90)" font-size="9.4" fill="#3c3cc0" stroke="#3c3cc0" font-weight="normal" textLength="34.23" lengthAdjust="spacingAndGlyphs">194 kHz</text>
<text x="475.53" y="11.4" font-size="12" fill="#111" stroke="#111" font-weight="bold" textLength="11.11" lengthAdjust="spacingAndGlyphs">e)</text>
<polygon points="501.9,341.3 501.9,332.93 502.25,329.99 502.6,332.23 502.95,333.8 503.3,333.86 503.65,331.89 504,332.6 504.35,333.58 504.7,331.93 505.05,332.1 505.4,328.92 505.75,331.18 506.1,331.64 506.45,332.98 506.8,333.39 507.15,331.9 507.5,330.32 507.85,333.79 508.2,331.76 508.55,332.96 508.9,332.5 509.25,331.39 509.6,333.19 509.95,332.27 510.3,331.6 510.65,328.91 511,332.62 511.35,333.49 511.7,333.86 512.05,331.48 512.4,331.12 512.75,331.71 513.1,332.09 513.45,331.24 513.8,332.43 514.15,333.79 514.5,331.87 514.85,331.3 515.2,332.72 515.55,333.91 515.9,331.57 516.25,333.79 516.6,333.56 516.95,332.71 517.3,333.72 517.65,332.19 518,331.31 518.35,333.07 518.7,332.81 519.05,330.85 519.4,333.41 519.75,333.22 520.1,332.06 520.45,333.97 520.8,332.78 521.15,330.87 521.5,332.3 521.85,329.9 522.2,331.04 522.55,331.12 522.9,332.7 523.25,333.65 523.6,331.91 523.95,333.3 524.3,331 524.65,333.98 525,333.65 525.35,333.9 525.7,331.98 526.05,333.16 526.4,332.79 526.75,331.21 527.1,332.46 527.45,331.84 527.8,332.86 528.15,331.27 528.5,333.91 528.85,332.26 529.2,330.34 529.55,332.26 529.9,331.16 530.25,333.13 530.6,333.44 530.95,332.24 531.3,332.91 531.65,331.33 532,331.2 532.35,331.31 532.7,333.24 533.05,330.95 533.4,333.89 533.75,333.14 534.1,330.86 534.45,330.92 534.8,330.86 535.15,333.26 535.5,333.34 535.85,331.94 536.2,331.24 536.55,331.85 536.9,333.71 537.25,331.01 537.6,331.53 537.95,333.4 538.3,332.9 538.65,330.81 539,332.67 539.35,331.61 539.7,333.57 540.05,331.03 540.4,333.51 540.75,330.78 541.1,332.84 541.45,331.69 541.8,330.81 542.15,332.26 542.5,332.57 542.85,331.28 543.2,333.16 543.55,333.2 543.9,333.14 544.25,333.56 544.6,332.83 544.95,332.08 545.3,332.61 545.65,332.34 546,330.4 546.35,332.55 546.7,333.97 547.05,333.42 547.4,331.61 547.75,332.92 548.1,332.17 548.45,333.64 548.8,333.17 549.15,331.46 549.5,332.15 549.85,331 550.2,331.98 550.55,332.31 550.9,332.51 551.25,332.42 551.6,331.7 551.95,330.9 552.3,332.15 552.65,331.24 553,333.59 553.35,333.75 553.7,333.75 554.05,331.42 554.4,333.48 554.75,331.83 555.1,331.1 555.45,333.27 555.8,332.68 556.15,330.75 556.5,333.46 556.85,332.3 557.2,333.34 557.55,329.75 557.9,332.17 558.25,333.93 558.6,331.94 558.95,333.77 559.3,331.41 559.65,333.64 560,333.86 560.35,333.1 560.7,332.6 561.05,331.31 561.4,333.5 561.75,332.12 562.1,331.82 562.45,331.73 562.8,333.75 563.15,331.91 563.5,333.71 563.85,333.77 564.2,332.5 564.55,332.18 564.9,333.11 565.25,332.26 565.6,332.95 565.95,332.68 566.3,332.41 566.65,331.5 567,331.85 567.35,330.98 567.7,331.27 568.05,330.97 568.4,330.67 568.75,329.06 569.1,330.04 569.45,329.71 569.8,329.38 570.15,329.04 570.5,328.69 570.85,328.33 571.2,327.97 571.55,327.59 571.9,327.2 572.25,326.81 572.6,326.4 572.95,325.98 573.3,325.55 573.65,325.11 574,324.65 574.35,324.18 574.7,323.69 575.05,323.19 575.4,322.67 575.75,322.12 576.1,321.56 576.45,320.98 576.8,320.37 577.15,319.73 577.5,319.07 577.85,318.38 578.2,317.65 578.55,316.88 578.9,316.07 579.25,315.21 579.6,314.3 579.95,313.33 580.3,312.29 580.65,311.17 581,309.97 581.35,308.65 581.7,307.2 582.05,305.59 582.4,303.79 582.75,301.74 583.1,299.35 583.45,296.49 583.8,292.94 584.15,288.26 584.5,281.35 584.85,267.9 584.95,259.35 585.2,275.19 585.55,284.72 585.9,290.45 586.25,294.57 586.6,297.78 586.95,300.42 587.3,302.65 587.65,304.59 588,306.3 588.35,307.84 588.7,309.23 589.05,310.5 589.4,311.66 589.75,312.75 590.1,313.75 590.45,314.7 590.8,315.58 591.15,316.42 591.5,317.21 591.85,317.96 592.2,318.68 592.55,319.36 592.9,320.01 593.25,320.63 593.6,321.23 593.95,321.81 594.3,322.36 594.65,322.89 595,323.41 595.35,323.9 595.7,324.38 596.05,324.85 596.4,325.3 596.75,325.74 597.1,326.16 597.45,326.58 597.8,326.98 598.15,327.37 598.5,327.75 598.85,328.12 599.2,328.49 599.55,328.84 599.9,329.19 600.25,329.52 600.6,329.85 600.95,330.18 601.3,330.49 601.65,330.8 602,331.1 602.35,331.09 602.7,331.69 603.05,330.91 603.4,329.76 603.75,331.59 604.1,331.52 604.45,331.18 604.8,330.95 605.15,332.44 605.5,333.01 605.85,330.79 606.2,331.84 606.55,332.16 606.9,333.44 607.25,333.3 607.6,332.36 607.95,331.02 608.3,332.51 608.65,331.49 609,331 609.35,333.2 609.7,332.12 610.05,331.53 610.4,332.63 610.75,332.75 611.1,333.78 611.45,330.82 611.8,332.34 612.15,331.16 612.5,333.1 612.85,332.68 613.2,330.87 613.55,329.26 613.9,333.88 614.25,331.06 614.6,330.2 614.95,332.7 615.3,331.28 615.65,330.81 616,333.63 616.35,332.28 616.7,330.91 617.05,331.87 617.4,332.49 617.75,333.86 618.1,333.22 618.45,331.87 618.8,333.57 619.15,331.9 619.5,331.75 619.85,332.27 620.2,332.72 620.55,330.15 620.9,333 621.25,330.85 621.6,331.09 621.95,333.22 622.3,330.84 622.65,331.11 623,332.36 623.35,332.61 623.7,331.8 624.05,331.37 624.4,332.88 624.75,331.75 625.1,331.38 625.45,332.33 625.8,330.81 626.15,331.3 626.5,333.26 626.85,333.02 627.2,332.36 627.55,333.25 627.9,331.81 628.25,333.51 628.6,333.29 628.95,331.65 629.3,333.79 629.65,331.05 630,331.59 630.35,330.94 630.7,333.38 631.05,329.68 631.4,331.81 631.75,332.76 632.1,331.56 632.45,333.07 632.8,330.86 633.15,330.83 633.5,332.82 633.85,331.3 634.2,333.82 634.55,332.77 634.9,333.35 635.25,329.18 635.6,332.64 635.95,329.61 636.3,332 636.65,330.98 637,331.54 637.35,332.88 637.7,330.85 638.05,333.13 638.4,332.95 638.75,333.97 639.1,330.99 639.45,329.03 639.8,333.22 640.15,330.86 640.5,332.72 640.85,332.58 641.2,330.95 641.55,331.36 641.9,331.29 642.25,332 642.6,332.94 642.95,329.56 643.3,333.34 643.65,331.31 644,333.87 644.35,332.92 644.7,331.1 645.05,331.25 645.4,333.67 645.75,331.66 646.1,333.22 646.45,331.96 646.8,331.54 647.15,331.81 647.5,331.23 647.85,332.13 648.2,331.57 648.55,333.18 648.9,333.48 649.25,332.09 649.6,332.69 649.95,332.33 650.3,331.34 650.65,328.88 651,332.43 651.35,331.24 651.7,333.85 652.05,333.59 652.4,330.8 652.75,330.94 653.1,331.15 653.45,333.13 653.8,329.02 654.15,332.04 654.5,333.27 654.85,333.52 655.2,333.15 655.55,331.85 655.9,333.95 656.25,331.77 656.6,332.96 656.95,331.38 657.3,331.91 657.65,332.69 658,330.03 658.35,333.45 658.7,332.64 659.05,332.98 659.4,332.96 659.75,332.82 660.1,331.16 660.45,332.8 660.8,331.6 661.15,333.97 661.5,332.6 661.85,332.66 662.2,332.48 662.55,333.94 662.9,331.89 663.25,333.69 663.6,332.77 663.95,333.51 664.3,332.28 664.65,333.63 665,331.35 665.35,333.34 665.7,330.9 666.05,330.54 666.4,330.96 666.75,331.03 667.1,331.29 667.45,331.41 667.8,332.66 668.1,341.3" fill="#0a0a0a" stroke="none" stroke-width="0" />
<line x1="584.95" y1="260" x2="584.95" y2="302" stroke="#1a1a1a" stroke-width="1.3" />
<polygon points="582.7,341.3 583,337.5 583.8,335 584.4,320 585,335 586,337 586.6,341.3" fill="#ffffff" stroke="none" stroke-width="0" />
<line x1="584.45" y1="312" x2="584.45" y2="334" stroke="#bbbbbb" stroke-width="0.5" />
<rect x="501.3" y="189.5" width="167.3" height="151.8" fill="none" stroke="#555" stroke-width="1"/>
<line x1="517.95" y1="341.3" x2="517.95" y2="339.3" stroke="#555" stroke-width="0.8" />
<line x1="551.45" y1="341.3" x2="551.45" y2="340" stroke="#555" stroke-width="0.8" />
<line x1="584.95" y1="341.3" x2="584.95" y2="339.3" stroke="#555" stroke-width="0.8" />
<line x1="618.45" y1="341.3" x2="618.45" y2="340" stroke="#555" stroke-width="0.8" />
<line x1="651.95" y1="341.3" x2="651.95" y2="339.3" stroke="#555" stroke-width="0.8" />
<line x1="501.3" y1="201.3" x2="503.3" y2="201.3" stroke="#555" stroke-width="0.8" />
<line x1="501.3" y1="259.7" x2="503.3" y2="259.7" stroke="#555" stroke-width="0.8" />
<line x1="501.3" y1="318.1" x2="503.3" y2="318.1" stroke="#555" stroke-width="0.8" />
<line x1="501.3" y1="230.5" x2="502.6" y2="230.5" stroke="#555" stroke-width="0.8" />
<line x1="501.3" y1="288.9" x2="502.6" y2="288.9" stroke="#555" stroke-width="0.8" />
<text x="489.03" y="204" font-size="10" fill="#222" stroke="#222" font-weight="normal" textLength="10.2" lengthAdjust="spacingAndGlyphs">50</text>
<text x="493.28" y="263.1" font-size="10" fill="#222" stroke="#222" font-weight="normal" textLength="6.02" lengthAdjust="spacingAndGlyphs">0</text>
<text x="486.26" y="321.8" font-size="10" fill="#222" stroke="#222" font-weight="normal" textLength="12.46" lengthAdjust="spacingAndGlyphs">-50</text>
<text x="510.49" y="351.7" font-size="10.4" fill="#222" stroke="#222" font-weight="normal" textLength="14.99" lengthAdjust="spacingAndGlyphs">-20</text>
<text x="581.87" y="351.7" font-size="10.4" fill="#222" stroke="#222" font-weight="normal" textLength="6.13" lengthAdjust="spacingAndGlyphs">0</text>
<text x="646.04" y="351.7" font-size="10.4" fill="#222" stroke="#222" font-weight="normal" textLength="12.36" lengthAdjust="spacingAndGlyphs">20</text>
<text x="541.57" y="363.9" font-size="11.8" fill="#222" stroke="#222" font-weight="normal" textLength="86.05" lengthAdjust="spacingAndGlyphs">Frequency (kHz)</text>
<text transform="translate(482.8,335.66) rotate(-90)" font-size="11" fill="#222" stroke="#222" font-weight="normal" textLength="134.7" lengthAdjust="spacingAndGlyphs">Normalized intensity (dB)</text>
<text x="474.07" y="187.6" font-size="11.6" fill="#111" stroke="#111" font-weight="bold" textLength="8.47" lengthAdjust="spacingAndGlyphs">f)</text>
<text x="508.92" y="322" font-size="9.6" fill="#222" stroke="#222" font-weight="normal" textLength="2.26" lengthAdjust="spacingAndGlyphs">f</text>
<text x="511.84" y="326" font-size="6" fill="#222" stroke="#222" font-weight="normal" textLength="2.95" lengthAdjust="spacingAndGlyphs">0</text>
<text x="520.13" y="322" font-size="9.6" fill="#222" stroke="#222" font-weight="normal" textLength="42.45" lengthAdjust="spacingAndGlyphs">= 205 kHz</text>
<rect x="533.0" y="189.5" width="135.60000000000002" height="58.69999999999999" fill="#fff" stroke="#555" stroke-width="1.0"/>
<polygon points="533.6,227.93 533.9,226.79 534.2,227.28 534.5,226.52 534.8,227.53 535.1,226.22 535.4,227.41 535.7,227.43 536,226.86 536.3,226.72 536.6,226.13 536.9,225.87 537.2,227.35 537.5,227.78 537.8,229.59 538.1,230.88 538.4,230.98 538.7,231.54 539,231.36 539.3,231.65 539.6,232.7 539.9,233.16 540.2,233.53 540.5,233.29 540.8,233.41 541.1,234.33 541.4,234.1 541.7,233.75 542,232.64 542.3,232.99 542.6,233.54 542.9,233.04 543.2,231.41 543.5,232.25 543.8,232.02 544.1,231.28 544.4,229.98 544.7,228.56 545,228.01 545.3,228.89 545.6,230.52 545.9,232.61 546.2,232.64 546.5,233.31 546.8,234.88 547.1,235.83 547.4,235.73 547.7,235.22 548,236.45 548.3,236.98 548.6,237.52 548.9,236.54 549.2,236.82 549.5,237.39 549.8,237.4 550.1,236.93 550.4,236.65 550.7,235.94 551,235.16 551.3,235.88 551.6,235.29 551.9,234.11 552.2,234.44 552.5,232.53 552.8,231.81 553.1,230.92 553.4,232.27 553.7,233.75 554,234.02 554.3,235.16 554.6,235.67 554.9,237.7 555.2,237.38 555.5,237.1 555.8,238.44 556.1,238.87 556.4,239.63 556.7,238.58 557,238.37 557.3,239.15 557.6,238.62 557.9,238.43 558.2,239.97 558.5,238.48 558.8,238.83 559.1,239.15 559.4,237.95 559.7,237.12 560,238.01 560.3,236.08 560.6,236.76 560.9,235.96 561.2,234.07 561.5,233.74 561.8,235.05 562.1,236.61 562.4,237.39 562.7,237.72 563,238.65 563.3,238.12 563.6,239.71 563.9,239.84 564.2,238.95 564.5,240 564.8,240.16 565.1,240.52 565.4,239.47 565.7,240.26 566,240.27 566.3,239.82 566.6,240.12 566.9,239.51 567.2,239.58 567.5,238.72 567.8,238.22 568.1,238.03 568.4,237.58 568.7,237.54 569,236.4 569.3,236.9 569.6,236.7 569.9,236.46 570.2,237.73 570.5,239.15 570.8,238.29 571.1,240.22 571.4,239.1 571.7,239.38 572,240.92 572.3,240.72 572.6,240.87 572.9,240.03 573.2,241.31 573.5,240.61 573.8,240.14 574.1,240.61 574.4,240.7 574.7,241.69 575,241.39 575.3,239.79 575.6,240.37 575.9,240.03 576.2,240.15 576.5,240.47 576.8,240.06 577.1,238.19 577.4,239.07 577.7,237.11 578,238.75 578.3,238.82 578.6,239.62 578.9,239.88 579.2,240.27 579.5,241.29 579.8,240.46 580.1,240.6 580.4,241.86 580.7,241.86 581,241.56 581.3,242.52 581.6,242.59 581.9,241.42 582.2,242.65 582.5,241.65 582.8,241.32 583.1,241.76 583.4,242.05 583.7,241.19 584,240.68 584.3,241.39 584.6,240.26 584.9,241.05 585.2,239.52 585.5,240.44 585.8,238.65 586.1,239.83 586.4,239.43 586.7,240.08 587,240.96 587.3,240.94 587.6,242.36 587.9,241.01 588.2,241.18 588.5,242.92 588.8,242.58 589.1,241.71 589.4,241.63 589.7,242.21 590,242.28 590.3,242.82 590.6,242.66 590.9,241.71 591.2,242.11 591.5,242.92 591.8,242.21 592.1,241.8 592.4,242.17 592.7,242.06 593,241.95 593.3,241.26 593.6,240.3 593.9,239.45 594.2,240.91 594.5,241.14 594.8,241.19 595.1,241.88 595.4,242.26 595.7,241.6 596,242.86 596.3,242.49 596.6,241.8 596.9,242.13 597.2,243.61 597.5,242.17 597.8,243.02 598.1,243.01 598.4,243.62 598.7,242.83 599,242.42 599.3,242.69 599.6,242.13 599.9,242.47 600.2,242.21 600.5,241.62 600.8,242.19 601.1,241.88 601.4,241.41 601.7,242.42 602,240.77 602.3,240.97 602.6,240.94 602.9,242.53 603.2,242.21 603.5,242.01 603.8,242.44 604.1,243.44 604.4,242.94 604.7,243.2 605,243.8 605.3,243.9 605.6,243.11 605.9,243.25 606.2,242.52 606.5,243.06 606.8,243.12 607.1,243.32 607.4,243.7 607.7,244.14 608,242.52 608.3,243.99 608.6,242.53 608.9,243.32 609.2,242.09 609.5,243.11 609.8,241.94 610.1,241.97 610.4,241.92 610.7,242.86 611,241.87 611.3,242.94 611.6,243.28 611.9,243.68 612.2,242.77 612.5,243.49 612.8,243.43 613.1,243.72 613.4,243.21 613.7,243.73 614,243.73 614.3,243.81 614.6,243.93 614.9,243 615.2,243.85 615.5,244.18 615.8,243.63 616.1,244.65 616.4,244.03 616.7,242.89 617,244.01 617.3,243.3 617.6,243.54 617.9,244.13 618.2,243.68 618.5,242.83 618.8,242.85 619.1,243.37 619.4,243 619.7,243.54 620,244.4 620.3,244.51 620.6,244.01 620.9,244.09 621.2,244.41 621.5,243.88 621.8,243.86 622.1,244.5 622.4,243.45 622.7,245 623,243.51 623.3,243.43 623.6,245.06 623.9,244.56 624.2,244.99 624.5,244.43 624.8,244.53 625.1,244.45 625.4,244.37 625.7,244.47 626,243.33 626.3,244.29 626.6,243.94 626.9,244.08 627.2,243.85 627.5,243.57 627.8,243.76 628.1,244.47 628.4,243.52 628.7,243.58 629,245.04 629.3,245.29 629.6,243.71 629.9,244.79 630.2,245.52 630.5,244.52 630.8,244.96 631.1,244.09 631.4,243.84 631.7,244.03 632,243.95 632.3,244 632.6,245.03 632.9,245.02 633.2,243.75 633.5,244.89 633.8,244.85 634.1,244.59 634.4,244.19 634.7,243.7 635,244.39 635.3,243.31 635.6,244.9 635.9,244.11 636.2,243.95 636.5,244.61 636.8,244.46 637.1,244.64 637.4,244.16 637.7,244.59 638,245.1 638.3,244.68 638.6,245.71 638.9,245.05 639.2,244.15 639.5,245.32 639.8,244.65 640.1,245.8 640.4,245.1 640.7,244.78 641,244.66 641.3,245.04 641.6,245.38 641.9,243.89 642.2,244.6 642.5,245.26 642.8,243.79 643.1,245.09 643.4,244.73 643.7,245.36 644,245.16 644.3,244.64 644.6,245.08 644.9,244.5 645.2,245.87 645.5,245.32 645.8,245.1 646.1,244.74 646.4,245.73 646.7,244.48 647,245.73 647.3,245.39 647.6,245.95 647.9,245.22 648.2,244.7 648.5,244.68 648.8,245 649.1,245.06 649.4,244.59 649.7,246.1 650,244.47 650.3,245.67 650.6,245.3 650.9,245.12 651.2,244.2 651.5,245.71 651.8,245.31 652.1,245.8 652.4,246.19 652.7,246.04 653,245.08 653.3,245.04 653.6,244.87 653.9,245.75 654.2,245.6 654.5,246.44 654.8,245.89 655.1,245.05 655.4,245.31 655.7,246.01 656,246.07 656.3,245.68 656.6,246.61 656.9,245.28 657.2,245.34 657.5,246.51 657.8,246.4 658.1,246.31 658.4,246.06 658.7,244.99 659,246.25 659.3,246.11 659.6,245.96 659.9,245.09 660.2,245.36 660.5,245.76 660.8,245.33 661.1,246.12 661.4,246.19 661.7,244.96 662,245.3 662.3,246.46 662.6,245.15 662.9,245.07 663.2,246.42 663.5,245.71 663.8,246.38 664.1,246.03 664.4,245.3 664.7,246.18 665,245.16 665.3,245.38 665.6,245.18 665.9,246.41 666.2,245.2 666.5,245.47 666.8,245.11 667.1,245 667.4,246.1 667.7,245.76 668,245.36 668,247.44 667.7,247.54 667.4,247.45 667.1,248.27 666.8,248.37 666.5,248.28 666.2,247.79 665.9,247.6 665.6,247.53 665.3,247.69 665,248.24 664.7,247.86 664.4,247.27 664.1,247.37 663.8,247.77 663.5,247.61 663.2,247.95 662.9,248.31 662.6,247.74 662.3,248.27 662,248.32 661.7,248.31 661.4,247.43 661.1,247.22 660.8,247.37 660.5,247.4 660.2,247.35 659.9,247.59 659.6,248.11 659.3,247.56 659,248.33 658.7,247.37 658.4,248.38 658.1,248.05 657.8,247.26 657.5,248.29 657.2,247.62 656.9,247.25 656.6,248.39 656.3,247.39 656,247.67 655.7,248.35 655.4,247.88 655.1,248.35 654.8,247.68 654.5,247.28 654.2,248.34 653.9,248.24 653.6,247.26 653.3,247.42 653,247.25 652.7,248.36 652.4,248.12 652.1,247.71 651.8,247.51 651.5,247.78 651.2,248.39 650.9,247.22 650.6,247.61 650.3,247.39 650,247.96 649.7,247.65 649.4,247.25 649.1,247.82 648.8,247.88 648.5,248.04 648.2,247.43 647.9,247.91 647.6,247.83 647.3,248.28 647,247.48 646.7,248.17 646.4,247.75 646.1,248.1 645.8,247.45 645.5,248.01 645.2,247.48 644.9,248.1 644.6,248.16 644.3,247.3 644,248.3 643.7,248.17 643.4,247.53 643.1,248.24 642.8,248.2 642.5,248.26 642.2,247.9 641.9,247.52 641.6,247.54 641.3,248.28 641,248.02 640.7,248.27 640.4,247.57 640.1,248.2 639.8,247.93 639.5,248.19 639.2,248.37 638.9,247.55 638.6,248.14 638.3,248.14 638,247.7 637.7,247.97 637.4,248.16 637.1,248.01 636.8,247.89 636.5,247.27 636.2,248.23 635.9,248.08 635.6,247.3 635.3,247.98 635,247.21 634.7,248.36 634.4,248.32 634.1,248.05 633.8,247.3 633.5,248.23 633.2,248.13 632.9,247.42 632.6,247.49 632.3,247.22 632,248.24 631.7,248.36 631.4,248.02 631.1,247.22 630.8,247.45 630.5,247.32 630.2,247.77 629.9,248.33 629.6,247.66 629.3,247.74 629,247.89 628.7,247.34 628.4,247.88 628.1,248.32 627.8,247.72 627.5,247.71 627.2,247.51 626.9,248.14 626.6,247.64 626.3,248.3 626,247.24 625.7,247.32 625.4,247.75 625.1,247.46 624.8,247.92 624.5,247.95 624.2,247.93 623.9,248.15 623.6,247.93 623.3,247.43 623,247.56 622.7,247.85 622.4,248.07 622.1,248.14 621.8,247.9 621.5,247.58 621.2,248.15 620.9,248.37 620.6,247.53 620.3,247.68 620,247.55 619.7,247.86 619.4,247.72 619.1,248.12 618.8,247.77 618.5,248.23 618.2,247.95 617.9,247.24 617.6,247.78 617.3,248.38 617,248.32 616.7,247.93 616.4,247.96 616.1,247.29 615.8,247.7 615.5,248.21 615.2,247.88 614.9,248.21 614.6,248.24 614.3,247.8 614,247.37 613.7,247.27 613.4,247.37 613.1,247.52 612.8,248.26 612.5,248.09 612.2,248.03 611.9,248.21 611.6,248.27 611.3,248.14 611,248.27 610.7,248.15 610.4,247.38 610.1,248.13 609.8,247.37 609.5,247.5 609.2,248.34 608.9,247.22 608.6,248.2 608.3,248.14 608,248.19 607.7,248.23 607.4,247.63 607.1,247.96 606.8,247.78 606.5,247.49 606.2,248.07 605.9,247.42 605.6,247.5 605.3,247.52 605,247.63 604.7,247.35 604.4,247.55 604.1,248.18 603.8,247.97 603.5,248.36 603.2,247.87 602.9,247.96 602.6,248.13 602.3,247.45 602,248.16 601.7,247.83 601.4,248.09 601.1,247.52 600.8,248.04 600.5,247.7 600.2,247.68 599.9,247.27 599.6,248.38 599.3,248.12 599,248.02 598.7,248.34 598.4,247.83 598.1,247.97 597.8,248.06 597.5,247.89 597.2,247.82 596.9,248.14 596.6,247.85 596.3,248.37 596,247.67 595.7,247.99 595.4,248.32 595.1,247.69 594.8,247.75 594.5,247.5 594.2,248.06 593.9,247.7 593.6,247.95 593.3,247.74 593,248.02 592.7,248.04 592.4,248.26 592.1,247.47 591.8,248.1 591.5,247.72 591.2,248.09 590.9,247.92 590.6,247.76 590.3,247.8 590,248.15 589.7,247.24 589.4,247.45 589.1,247.97 588.8,247.72 588.5,248.15 588.2,247.66 587.9,248.35 587.6,248.07 587.3,247.43 587,247.39 586.7,247.59 586.4,247.39 586.1,248.21 585.8,247.56 585.5,247.49 585.2,247.75 584.9,247.9 584.6,247.73 584.3,248.09 584,248.21 583.7,247.59 583.4,247.98 583.1,248.11 582.8,247.75 582.5,248.26 582.2,247.8 581.9,247.52 581.6,247.23 581.3,247.3 581,247.67 580.7,247.63 580.4,248.14 580.1,248.15 579.8,247.96 579.5,247.8 579.2,247.46 578.9,248.33 578.6,248.2 578.3,247.79 578,248.16 577.7,247.79 577.4,248.37 577.1,247.44 576.8,247.4 576.5,247.31 576.2,247.46 575.9,248.05 575.6,248.13 575.3,247.7 575,247.94 574.7,247.8 574.4,247.58 574.1,248.06 573.8,247.51 573.5,247.71 573.2,247.45 572.9,247.32 572.6,247.54 572.3,248.19 572,248.17 571.7,247.24 571.4,247.45 571.1,248.33 570.8,248.24 570.5,248.27 570.2,248.18 569.9,247.91 569.6,248.08 569.3,247.96 569,247.25 568.7,247.37 568.4,248.31 568.1,247.23 567.8,248.29 567.5,247.95 567.2,247.57 566.9,248.07 566.6,248.23 566.3,248.21 566,248.37 565.7,248.03 565.4,248.29 565.1,247.59 564.8,247.59 564.5,248.33 564.2,247.48 563.9,247.22 563.6,247.46 563.3,247.97 563,247.83 562.7,247.72 562.4,247.52 562.1,248.21 561.8,248.1 561.5,247.25 561.2,247.33 560.9,247.74 560.6,247.76 560.3,248.21 560,248.06 559.7,248.27 559.4,247.56 559.1,247.41 558.8,247.97 558.5,247.93 558.2,247.37 557.9,247.86 557.6,248.13 557.3,247.49 557,247.84 556.7,248.28 556.4,248.08 556.1,247.73 555.8,247.62 555.5,247.97 555.2,247.52 554.9,248.14 554.6,247.97 554.3,247.38 554,248.32 553.7,247.77 553.4,247.45 553.1,247.9 552.8,247.63 552.5,247.63 552.2,247.23 551.9,247.47 551.6,248.27 551.3,247.72 551,247.38 550.7,247.2 550.4,248 550.1,248.38 549.8,247.5 549.5,247.26 549.2,247.41 548.9,248.12 548.6,247.89 548.3,247.52 548,247.67 547.7,248.39 547.4,248.26 547.1,247.87 546.8,247.63 546.5,247.84 546.2,248.14 545.9,248.27 545.6,248.32 545.3,247.42 545,247.58 544.7,247.52 544.4,248.3 544.1,247.37 543.8,247.53 543.5,247.39 543.2,247.62 542.9,248.32 542.6,247.4 542.3,248.35 542,248.38 541.7,248.18 541.4,248.4 541.1,247.36 540.8,247.65 540.5,247.27 540.2,248.13 539.9,247.3 539.6,247.25 539.3,247.73 539,247.72 538.7,247.33 538.4,247.42 538.1,248.14 537.8,247.48 537.5,247.94 537.2,247.73 536.9,247.99 536.6,239.6 536.3,239.27 536,239.56 535.7,239.04 535.4,238.95 535.1,239.57 534.8,239.98 534.5,239.2 534.2,239.36 533.9,239.38 533.6,239.12" fill="#111" stroke="none" stroke-width="0" />
<line x1="536.9" y1="199" x2="536.9" y2="227.5" stroke="#151515" stroke-width="1.1" />
<line x1="545" y1="201.1" x2="545" y2="229.5" stroke="#151515" stroke-width="1.1" />
<line x1="553.2" y1="203.3" x2="553.2" y2="232.5" stroke="#151515" stroke-width="1.1" />
<line x1="561.4" y1="206" x2="561.4" y2="235.3" stroke="#151515" stroke-width="1.1" />
<line x1="569.5" y1="209" x2="569.5" y2="237.5" stroke="#151515" stroke-width="1.1" />
<line x1="577.7" y1="211.9" x2="577.7" y2="239.5" stroke="#151515" stroke-width="1.1" />
<line x1="585.9" y1="215.1" x2="585.9" y2="240.5" stroke="#151515" stroke-width="1.1" />
<line x1="594" y1="218.9" x2="594" y2="241.5" stroke="#151515" stroke-width="1.1" />
<line x1="602.2" y1="222.6" x2="602.2" y2="242.5" stroke="#151515" stroke-width="1.1" />
<line x1="610.6" y1="225.2" x2="610.6" y2="243.5" stroke="#151515" stroke-width="1.1" />
<line x1="618.7" y1="229" x2="618.7" y2="244.5" stroke="#151515" stroke-width="1.1" />
<line x1="626.9" y1="233.3" x2="626.9" y2="245" stroke="#151515" stroke-width="1.1" />
<line x1="635" y1="235" x2="635" y2="245.5" stroke="#151515" stroke-width="1.1" />
<line x1="643.2" y1="238.7" x2="643.2" y2="246" stroke="#151515" stroke-width="1.1" />
<line x1="651.4" y1="241.9" x2="651.4" y2="246.5" stroke="#151515" stroke-width="1.1" />
<rect x="533.0" y="189.5" width="135.60000000000002" height="58.69999999999999" fill="none" stroke="#555" stroke-width="1.0"/>
<line x1="546" y1="248.2" x2="546" y2="249.2" stroke="#555" stroke-width="0.7" />
<line x1="563.6" y1="248.2" x2="563.6" y2="249.8" stroke="#555" stroke-width="0.7" />
<line x1="581.2" y1="248.2" x2="581.2" y2="249.2" stroke="#555" stroke-width="0.7" />
<line x1="598.8" y1="248.2" x2="598.8" y2="249.8" stroke="#555" stroke-width="0.7" />
<line x1="616.4" y1="248.2" x2="616.4" y2="249.2" stroke="#555" stroke-width="0.7" />
<line x1="634" y1="248.2" x2="634" y2="249.8" stroke="#555" stroke-width="0.7" />
<line x1="651.6" y1="248.2" x2="651.6" y2="249.2" stroke="#555" stroke-width="0.7" />
<line x1="533" y1="199" x2="531.4" y2="199" stroke="#555" stroke-width="0.7" />
<line x1="533" y1="222.65" x2="531.4" y2="222.65" stroke="#555" stroke-width="0.7" />
<line x1="533" y1="246.3" x2="531.4" y2="246.3" stroke="#555" stroke-width="0.7" />
<line x1="533" y1="210.82" x2="532" y2="210.82" stroke="#555" stroke-width="0.7" />
<line x1="533" y1="234.47" x2="532" y2="234.47" stroke="#555" stroke-width="0.7" />
<text x="526" y="200.9" font-size="6.8" fill="#333" stroke="#333" font-weight="normal" textLength="3.63" lengthAdjust="spacingAndGlyphs">0</text>
<text x="518.9" y="225" font-size="6.8" fill="#333" stroke="#333" font-weight="normal" textLength="10.77" lengthAdjust="spacingAndGlyphs">-50</text>
<text x="515.2" y="248.4" font-size="6.8" fill="#333" stroke="#333" font-weight="normal" textLength="15.07" lengthAdjust="spacingAndGlyphs">-100</text>
<text x="561.8" y="257.3" font-size="6.2" fill="#333" stroke="#333" font-weight="normal" textLength="3.45" lengthAdjust="spacingAndGlyphs">1</text>
<text x="597.06" y="257.3" font-size="6.2" fill="#333" stroke="#333" font-weight="normal" textLength="3.45" lengthAdjust="spacingAndGlyphs">2</text>
<text x="631.77" y="257.3" font-size="6.2" fill="#333" stroke="#333" font-weight="normal" textLength="25.03" lengthAdjust="spacingAndGlyphs">3(MHz)</text>
</svg>
</body></html>
